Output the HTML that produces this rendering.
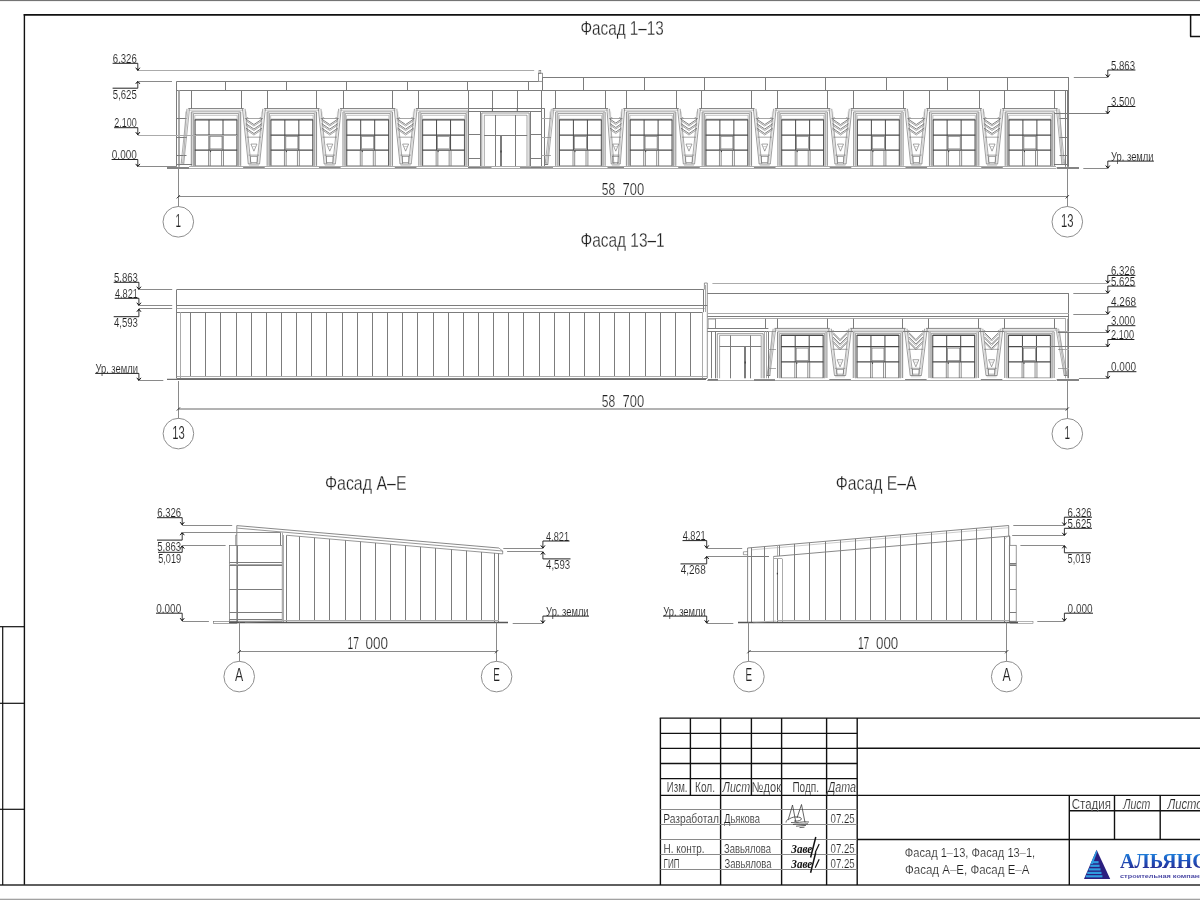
<!DOCTYPE html>
<html><head><meta charset="utf-8"><title>Фасады</title>
<style>
html,body{margin:0;padding:0;background:#fff;}
body{width:1200px;height:900px;overflow:hidden;font-family:"Liberation Sans",sans-serif;}
svg{display:block;font-family:"Liberation Sans",sans-serif;}
</style></head><body>
<svg width="1200" height="900" viewBox="0 0 1200 900">
<rect x="0" y="0" width="1200" height="900" style="fill:#fff" stroke="none"/>
<defs><filter id="gs" x="0" y="0" width="1200" height="900" filterUnits="userSpaceOnUse" color-interpolation-filters="sRGB"><feColorMatrix type="saturate" values="0"/></filter><filter id="idf" x="1060" y="830" width="140" height="70" filterUnits="userSpaceOnUse" color-interpolation-filters="sRGB"><feColorMatrix type="saturate" values="1"/></filter></defs>
<g filter="url(#gs)">
<rect x="0" y="0" width="1200" height="1.1" style="fill:#747474" stroke="none"/>
<rect x="0" y="898.7" width="1200" height="1.3" style="fill:#a2a2a2" stroke="none"/>
<path d="M24.4 14.1L24.4 885" stroke="#111" stroke-width="1.4"/>
<path d="M23.7 14.85L1200 14.85" stroke="#111" stroke-width="1.6"/>
<path d="M0 885L1200 885" stroke="#2a2a2a" stroke-width="1.6"/>
<path d="M1190.6 15L1190.6 36.5" stroke="#111" stroke-width="1.5"/>
<path d="M1190 36.5L1200 36.5" stroke="#111" stroke-width="1.5"/>
<path d="M2.7 626.7L2.7 885" stroke="#111" stroke-width="1.2"/>
<path d="M0 626.7L24.2 626.7" stroke="#111" stroke-width="1.2"/>
<path d="M0 703.3L24.2 703.3" stroke="#111" stroke-width="1.2"/>
<path d="M0 809.3L24.2 809.3" stroke="#111" stroke-width="1.2"/>
<path d="M659.7 718.1L1200 718.1" stroke="#111" stroke-width="1.4"/>
<path d="M660.4 718.1L660.4 885" stroke="#111" stroke-width="1.4"/>
<path d="M720.6 718.1L720.6 885" stroke="#111" stroke-width="1.4"/>
<path d="M781.6 718.1L781.6 885" stroke="#111" stroke-width="1.4"/>
<path d="M826.6 718.1L826.6 885" stroke="#111" stroke-width="1.4"/>
<path d="M857.2 718.1L857.2 885" stroke="#111" stroke-width="1.4"/>
<path d="M690.4 718.1L690.4 795.4" stroke="#111" stroke-width="1.4"/>
<path d="M751.4 718.1L751.4 795.4" stroke="#111" stroke-width="1.4"/>
<path d="M660.4 733.3L857.2 733.3" stroke="#111" stroke-width="1.3"/>
<path d="M660.4 748.4L857.2 748.4" stroke="#111" stroke-width="1.3"/>
<path d="M660.4 763.5L857.2 763.5" stroke="#111" stroke-width="1.3"/>
<path d="M660.4 778.6L857.2 778.6" stroke="#111" stroke-width="1.4"/>
<path d="M660.4 795.4L1200 795.4" stroke="#111" stroke-width="1.4"/>
<path d="M660.4 809.5L857.2 809.5" stroke="#8a8a8a" stroke-width="1"/>
<path d="M660.4 824.5L857.2 824.5" stroke="#8a8a8a" stroke-width="1"/>
<path d="M660.4 839.5L857.2 839.5" stroke="#8a8a8a" stroke-width="1"/>
<path d="M660.4 854.5L857.2 854.5" stroke="#8a8a8a" stroke-width="1"/>
<path d="M660.4 869.5L857.2 869.5" stroke="#8a8a8a" stroke-width="1"/>
<path d="M857.2 748.2L1200 748.2" stroke="#111" stroke-width="1.4"/>
<path d="M857.2 839.5L1200 839.5" stroke="#111" stroke-width="1.4"/>
<path d="M1069.3 795.4L1069.3 885" stroke="#111" stroke-width="1.4"/>
<path d="M1114.5 795.4L1114.5 839.5" stroke="#111" stroke-width="1.4"/>
<path d="M1160.2 795.4L1160.2 839.5" stroke="#111" stroke-width="1.4"/>
<path d="M1069.3 810.8L1200 810.8" stroke="#111" stroke-width="1.4"/>
<text x="666.8" y="791.6" font-size="14.4" fill="#222" text-anchor="start" stroke="#fff" stroke-width="0.2" textLength="20.7" lengthAdjust="spacingAndGlyphs">Изм.</text>
<text x="695" y="791.6" font-size="14.4" fill="#222" text-anchor="start" stroke="#fff" stroke-width="0.2" textLength="20" lengthAdjust="spacingAndGlyphs">Кол.</text>
<text x="722.6" y="791.6" font-size="14.4" fill="#222" text-anchor="start" stroke="#fff" stroke-width="0.2" textLength="27.4" lengthAdjust="spacingAndGlyphs" font-style="italic">Лист</text>
<text x="751.8" y="791.6" font-size="14.4" fill="#222" text-anchor="start" stroke="#fff" stroke-width="0.2" textLength="29.2" lengthAdjust="spacingAndGlyphs">№док</text>
<text x="792.4" y="791.6" font-size="14.4" fill="#222" text-anchor="start" stroke="#fff" stroke-width="0.2" textLength="26.6" lengthAdjust="spacingAndGlyphs">Подп.</text>
<text x="827.8" y="791.6" font-size="14.4" fill="#222" text-anchor="start" stroke="#fff" stroke-width="0.2" textLength="28.2" lengthAdjust="spacingAndGlyphs" font-style="italic">Дата</text>
<text x="663.2" y="822.6" font-size="12.2" fill="#222" text-anchor="start" stroke="#fff" stroke-width="0.17" textLength="55.8" lengthAdjust="spacingAndGlyphs">Разработал</text>
<text x="724" y="822.6" font-size="12.2" fill="#222" text-anchor="start" stroke="#fff" stroke-width="0.17" textLength="36" lengthAdjust="spacingAndGlyphs">Дьякова</text>
<text x="830.5" y="822.6" font-size="12.2" fill="#222" text-anchor="start" stroke="#fff" stroke-width="0.17" textLength="24.2" lengthAdjust="spacingAndGlyphs">07.25</text>
<text x="663.5" y="852.6" font-size="12.2" fill="#222" text-anchor="start" stroke="#fff" stroke-width="0.17" textLength="41" lengthAdjust="spacingAndGlyphs">Н. контр.</text>
<text x="724" y="852.6" font-size="12.2" fill="#222" text-anchor="start" stroke="#fff" stroke-width="0.17" textLength="47" lengthAdjust="spacingAndGlyphs">Завьялова</text>
<text x="830.5" y="852.8" font-size="12.2" fill="#222" text-anchor="start" stroke="#fff" stroke-width="0.17" textLength="24.2" lengthAdjust="spacingAndGlyphs">07.25</text>
<text x="663.5" y="867.8" font-size="12.2" fill="#222" text-anchor="start" stroke="#fff" stroke-width="0.17" textLength="16" lengthAdjust="spacingAndGlyphs">ГИП</text>
<text x="724.5" y="867.8" font-size="12.2" fill="#222" text-anchor="start" stroke="#fff" stroke-width="0.17" textLength="47" lengthAdjust="spacingAndGlyphs">Завьялова</text>
<text x="830.5" y="868" font-size="12.2" fill="#222" text-anchor="start" stroke="#fff" stroke-width="0.17" textLength="24.2" lengthAdjust="spacingAndGlyphs">07.25</text>
<text x="1071.7" y="808.6" font-size="14.5" fill="#222" text-anchor="start" stroke="#fff" stroke-width="0.2" textLength="39.2" lengthAdjust="spacingAndGlyphs">Стадия</text>
<text x="1123.2" y="808.6" font-size="14.5" fill="#222" text-anchor="start" stroke="#fff" stroke-width="0.2" textLength="27.2" lengthAdjust="spacingAndGlyphs" font-style="italic">Лист</text>
<text x="1167.5" y="808.6" font-size="14.5" fill="#222" text-anchor="start" stroke="#fff" stroke-width="0.2" textLength="41" lengthAdjust="spacingAndGlyphs" font-style="italic">Листов</text>
<text x="904.8" y="857" font-size="13.2" fill="#222" text-anchor="start" stroke="#fff" stroke-width="0.18" textLength="130.4" lengthAdjust="spacingAndGlyphs">Фасад 1–13, Фасад 13–1,</text>
<text x="905" y="874.1" font-size="13.2" fill="#222" text-anchor="start" stroke="#fff" stroke-width="0.18" textLength="124.4" lengthAdjust="spacingAndGlyphs">Фасад А–Е, Фасад Е–А</text>
<path d="M786 822.5 C786.5 819 788 821 789 817 L792.5 805 L795.8 822 M788 820 C792 816 799 816.5 801 818 C803 820 798 821.5 794 821 M797 818 L801.5 804.5 L805 822.5 M791 822.5 C796 823.5 803 821 809 822 M793 824.5 C798 823.5 803 824.5 808 823.8 M796 826.2 L806 825.4 M799.5 827.6 L804.5 827.2" stroke="#333" stroke-width="0.75" fill="none"/>
<text x="791.3" y="853" font-family="Liberation Serif" font-style="italic" font-weight="bold" font-size="13.5" textLength="21" lengthAdjust="spacingAndGlyphs" fill="#111">Заве</text>
<path d="M815.8 837 L810.6 857.5" stroke="#111" stroke-width="1.5" fill="none"/>
<path d="M819.2 844 L815.2 852.5" stroke="#111" stroke-width="1.2" fill="none"/>
<text x="791.3" y="868.2" font-family="Liberation Serif" font-style="italic" font-weight="bold" font-size="13.5" textLength="21" lengthAdjust="spacingAndGlyphs" fill="#111">Заве</text>
<path d="M815.8 852.2 L810.6 872.7" stroke="#111" stroke-width="1.5" fill="none"/>
<path d="M819.2 859.2 L815.2 867.7" stroke="#111" stroke-width="1.2" fill="none"/>
<path d="M137.8 70.5L534.2 70.5" stroke="#ababab" stroke-width="1"/>
<rect x="538.4" y="73.2" width="4" height="8.1" stroke="#6a6a6a" stroke-width="0.7" fill="none"/>
<rect x="539" y="70.4" width="1.8" height="2.8" stroke="#6a6a6a" stroke-width="0.6" fill="none"/>
<path d="M176.7 81.5L538.4 81.5" stroke="#7c7c7c" stroke-width="1"/>
<path d="M542.4 77.5L1068.9 77.5" stroke="#7c7c7c" stroke-width="1"/>
<path d="M176.7 90.5L1068.9 90.5" stroke="#7c7c7c" stroke-width="1"/>
<path d="M176.5 81.3L176.5 166.8" stroke="#7c7c7c" stroke-width="1"/>
<path d="M1068.5 77.3L1068.5 166.8" stroke="#7c7c7c" stroke-width="1"/>
<path d="M542.5 77.3L542.5 90.4" stroke="#7c7c7c" stroke-width="1"/>
<path d="M225.5 81.3L225.5 90.4" stroke="#7c7c7c" stroke-width="1"/>
<path d="M286.5 81.3L286.5 90.4" stroke="#7c7c7c" stroke-width="1"/>
<path d="M346.5 81.3L346.5 90.4" stroke="#7c7c7c" stroke-width="1"/>
<path d="M407.5 81.3L407.5 90.4" stroke="#7c7c7c" stroke-width="1"/>
<path d="M467.5 81.3L467.5 90.4" stroke="#7c7c7c" stroke-width="1"/>
<path d="M528.5 81.3L528.5 90.4" stroke="#7c7c7c" stroke-width="1"/>
<path d="M583.5 77.3L583.5 90.4" stroke="#7c7c7c" stroke-width="1"/>
<path d="M644.5 77.3L644.5 90.4" stroke="#7c7c7c" stroke-width="1"/>
<path d="M704.5 77.3L704.5 90.4" stroke="#7c7c7c" stroke-width="1"/>
<path d="M765.5 77.3L765.5 90.4" stroke="#7c7c7c" stroke-width="1"/>
<path d="M825.5 77.3L825.5 90.4" stroke="#7c7c7c" stroke-width="1"/>
<path d="M886.5 77.3L886.5 90.4" stroke="#7c7c7c" stroke-width="1"/>
<path d="M947.5 77.3L947.5 90.4" stroke="#7c7c7c" stroke-width="1"/>
<path d="M1007.5 77.3L1007.5 90.4" stroke="#7c7c7c" stroke-width="1"/>
<path d="M191.5 90.4L191.5 108.5" stroke="#7c7c7c" stroke-width="1"/>
<path d="M241.5 90.4L241.5 108.5" stroke="#7c7c7c" stroke-width="1"/>
<path d="M267.5 90.4L267.5 108.5" stroke="#7c7c7c" stroke-width="1"/>
<path d="M316.5 90.4L316.5 108.5" stroke="#7c7c7c" stroke-width="1"/>
<path d="M343.5 90.4L343.5 108.5" stroke="#7c7c7c" stroke-width="1"/>
<path d="M392.5 90.4L392.5 108.5" stroke="#7c7c7c" stroke-width="1"/>
<path d="M418.5 90.4L418.5 108.5" stroke="#7c7c7c" stroke-width="1"/>
<path d="M555.5 90.4L555.5 108.5" stroke="#7c7c7c" stroke-width="1"/>
<path d="M605.5 90.4L605.5 108.5" stroke="#7c7c7c" stroke-width="1"/>
<path d="M626.5 90.4L626.5 108.5" stroke="#7c7c7c" stroke-width="1"/>
<path d="M676.5 90.4L676.5 108.5" stroke="#7c7c7c" stroke-width="1"/>
<path d="M701.5 90.4L701.5 108.5" stroke="#7c7c7c" stroke-width="1"/>
<path d="M751.5 90.4L751.5 108.5" stroke="#7c7c7c" stroke-width="1"/>
<path d="M777.5 90.4L777.5 108.5" stroke="#7c7c7c" stroke-width="1"/>
<path d="M827.5 90.4L827.5 108.5" stroke="#7c7c7c" stroke-width="1"/>
<path d="M853.5 90.4L853.5 108.5" stroke="#7c7c7c" stroke-width="1"/>
<path d="M903.5 90.4L903.5 108.5" stroke="#7c7c7c" stroke-width="1"/>
<path d="M929.5 90.4L929.5 108.5" stroke="#7c7c7c" stroke-width="1"/>
<path d="M979.5 90.4L979.5 108.5" stroke="#7c7c7c" stroke-width="1"/>
<path d="M1004.5 90.4L1004.5 108.5" stroke="#7c7c7c" stroke-width="1"/>
<path d="M1054.5 90.4L1054.5 108.5" stroke="#7c7c7c" stroke-width="1"/>
<path d="M468.5 90.4L468.5 108.5" stroke="#7c7c7c" stroke-width="1"/>
<path d="M492.5 90.4L492.5 108.5" stroke="#7c7c7c" stroke-width="1"/>
<path d="M517.5 90.4L517.5 108.5" stroke="#7c7c7c" stroke-width="1"/>
<path d="M541.5 90.4L541.5 108.5" stroke="#7c7c7c" stroke-width="1"/>
<path d="M178.5 90.4L178.5 166.8" stroke="#ababab" stroke-width="1"/>
<path d="M179.5 90.4L179.5 166.8" stroke="#ababab" stroke-width="1"/>
<path d="M176.7 118.5L186.5 118.5" stroke="#7c7c7c" stroke-width="1"/>
<path d="M176.7 137.5L186.5 137.5" stroke="#7c7c7c" stroke-width="1"/>
<path d="M176.7 155.5L186.5 155.5" stroke="#7c7c7c" stroke-width="1"/>
<path d="M189.5 108.8L183.7 164" stroke="#6a6a6a" stroke-width="0.55"/>
<path d="M188.2 108.8L182.4 164" stroke="#9a9a9a" stroke-width="0.55"/>
<path d="M186.9 108.8L181.1 164" stroke="#6a6a6a" stroke-width="0.55"/>
<path d="M185.7 111.5L183.7 164" stroke="#9a9a9a" stroke-width="0.5"/>
<path d="M180.5 164.5L184.1 164.5" stroke="#7c7c7c" stroke-width="1"/>
<path d="M181.7 159L181.5 162.8L183 162.8" stroke="#9a9a9a" stroke-width="0.5" fill="none"/>
<path d="M176.7 164.5L192 164.5" stroke="#7c7c7c" stroke-width="1"/>
<path d="M1067.5 90.4L1067.5 166.8" stroke="#7c7c7c" stroke-width="1"/>
<path d="M1065.5 90.4L1065.5 166.8" stroke="#7c7c7c" stroke-width="1"/>
<path d="M1059.5 118.5L1068.9 118.5" stroke="#7c7c7c" stroke-width="1"/>
<path d="M1059.5 137.5L1068.9 137.5" stroke="#7c7c7c" stroke-width="1"/>
<path d="M1059.5 155.5L1068.9 155.5" stroke="#7c7c7c" stroke-width="1"/>
<path d="M1056.4 108.8L1061.9 164" stroke="#6a6a6a" stroke-width="0.55"/>
<path d="M1057.7 108.8L1063.2 164" stroke="#9a9a9a" stroke-width="0.55"/>
<path d="M1059 108.8L1064.5 164" stroke="#6a6a6a" stroke-width="0.55"/>
<path d="M1060.2 111.5L1061.9 164" stroke="#9a9a9a" stroke-width="0.5"/>
<path d="M1065.1 164.5L1061.5 164.5" stroke="#7c7c7c" stroke-width="1"/>
<path d="M1063.9 159L1064.1 162.8L1062.6 162.8" stroke="#9a9a9a" stroke-width="0.5" fill="none"/>
<path d="M1054 164.5L1068.9 164.5" stroke="#7c7c7c" stroke-width="1"/>
<path d="M188.3 108.5L243.7 108.5" stroke="#6a6a6a" stroke-width="0.8"/>
<path d="M188.8 110.2L243.2 110.2" stroke="#9a9a9a" stroke-width="0.6"/>
<path d="M191.5 111.8L240.5 111.8" stroke="#6a6a6a" stroke-width="0.6"/>
<path d="M191.3 111.8L191.3 165.9" stroke="#666" stroke-width="0.75"/>
<path d="M240.7 111.8L240.7 165.9" stroke="#666" stroke-width="0.75"/>
<path d="M192.8 111.8L192.8 165.9" stroke="#9a9a9a" stroke-width="0.6"/>
<path d="M239.2 111.8L239.2 165.9" stroke="#9a9a9a" stroke-width="0.6"/>
<path d="M193.6 166.2L193.6 113.5L238.4 113.5L238.4 166.2" stroke="#6a6a6a" stroke-width="0.6" fill="none"/>
<path d="M194.8 166.2L194.8 115.3L237.2 115.3L237.2 166.2" stroke="#9a9a9a" stroke-width="0.6" fill="none"/>
<path d="M195.1 118.9L236.9 118.9" stroke="#9a9a9a" stroke-width="0.5"/>
<path d="M194.8 119.8L237.2 119.8" stroke="#4a4a4a" stroke-width="1.25"/>
<path d="M194.8 135L237.2 135" stroke="#4a4a4a" stroke-width="1.25"/>
<path d="M194.8 150.1L237.2 150.1" stroke="#4a4a4a" stroke-width="1.25"/>
<path d="M195.1 119.8L195.1 165.8" stroke="#4a4a4a" stroke-width="0.9"/>
<path d="M236.9 119.8L236.9 165.8" stroke="#4a4a4a" stroke-width="0.9"/>
<path d="M209 119.8L209 150.1" stroke="#4a4a4a" stroke-width="1"/>
<path d="M223 119.8L223 150.1" stroke="#4a4a4a" stroke-width="1"/>
<rect x="210" y="136.4" width="12" height="12.5" stroke="#6a6a6a" stroke-width="0.6" fill="none"/>
<path d="M208.6 150.1L208.6 165.9" stroke="#6a6a6a" stroke-width="0.75"/>
<path d="M210.3 150.1L210.3 165.9" stroke="#6a6a6a" stroke-width="0.75"/>
<path d="M221.6 150.1L221.6 165.9" stroke="#6a6a6a" stroke-width="0.75"/>
<path d="M223.5 150.1L223.5 165.9" stroke="#6a6a6a" stroke-width="0.75"/>
<path d="M210.6 150.7L210.6 152.1" stroke="#222" stroke-width="0.8"/>
<path d="M195.1 165.7L236.9 165.7" stroke="#6a6a6a" stroke-width="0.6"/>
<path d="M264.15 108.5L319.55 108.5" stroke="#6a6a6a" stroke-width="0.8"/>
<path d="M264.65 110.2L319.05 110.2" stroke="#9a9a9a" stroke-width="0.6"/>
<path d="M267.35 111.8L316.35 111.8" stroke="#6a6a6a" stroke-width="0.6"/>
<path d="M267.15 111.8L267.15 165.9" stroke="#666" stroke-width="0.75"/>
<path d="M316.55 111.8L316.55 165.9" stroke="#666" stroke-width="0.75"/>
<path d="M268.65 111.8L268.65 165.9" stroke="#9a9a9a" stroke-width="0.6"/>
<path d="M315.05 111.8L315.05 165.9" stroke="#9a9a9a" stroke-width="0.6"/>
<path d="M269.45 166.2L269.45 113.5L314.25 113.5L314.25 166.2" stroke="#6a6a6a" stroke-width="0.6" fill="none"/>
<path d="M270.65 166.2L270.65 115.3L313.05 115.3L313.05 166.2" stroke="#9a9a9a" stroke-width="0.6" fill="none"/>
<path d="M270.95 118.9L312.75 118.9" stroke="#9a9a9a" stroke-width="0.5"/>
<path d="M270.65 119.8L313.05 119.8" stroke="#4a4a4a" stroke-width="1.25"/>
<path d="M270.65 135L313.05 135" stroke="#4a4a4a" stroke-width="1.25"/>
<path d="M270.65 150.1L313.05 150.1" stroke="#4a4a4a" stroke-width="1.25"/>
<path d="M270.95 119.8L270.95 165.8" stroke="#4a4a4a" stroke-width="0.9"/>
<path d="M312.75 119.8L312.75 165.8" stroke="#4a4a4a" stroke-width="0.9"/>
<path d="M284.85 119.8L284.85 150.1" stroke="#4a4a4a" stroke-width="1"/>
<path d="M298.85 119.8L298.85 150.1" stroke="#4a4a4a" stroke-width="1"/>
<rect x="285.85" y="136.4" width="12" height="12.5" stroke="#6a6a6a" stroke-width="0.6" fill="none"/>
<path d="M284.45 150.1L284.45 165.9" stroke="#6a6a6a" stroke-width="0.75"/>
<path d="M286.15 150.1L286.15 165.9" stroke="#6a6a6a" stroke-width="0.75"/>
<path d="M297.45 150.1L297.45 165.9" stroke="#6a6a6a" stroke-width="0.75"/>
<path d="M299.35 150.1L299.35 165.9" stroke="#6a6a6a" stroke-width="0.75"/>
<path d="M286.45 150.7L286.45 152.1" stroke="#222" stroke-width="0.8"/>
<path d="M270.95 165.7L312.75 165.7" stroke="#6a6a6a" stroke-width="0.6"/>
<path d="M340 108.5L395.4 108.5" stroke="#6a6a6a" stroke-width="0.8"/>
<path d="M340.5 110.2L394.9 110.2" stroke="#9a9a9a" stroke-width="0.6"/>
<path d="M343.2 111.8L392.2 111.8" stroke="#6a6a6a" stroke-width="0.6"/>
<path d="M343 111.8L343 165.9" stroke="#666" stroke-width="0.75"/>
<path d="M392.4 111.8L392.4 165.9" stroke="#666" stroke-width="0.75"/>
<path d="M344.5 111.8L344.5 165.9" stroke="#9a9a9a" stroke-width="0.6"/>
<path d="M390.9 111.8L390.9 165.9" stroke="#9a9a9a" stroke-width="0.6"/>
<path d="M345.3 166.2L345.3 113.5L390.1 113.5L390.1 166.2" stroke="#6a6a6a" stroke-width="0.6" fill="none"/>
<path d="M346.5 166.2L346.5 115.3L388.9 115.3L388.9 166.2" stroke="#9a9a9a" stroke-width="0.6" fill="none"/>
<path d="M346.8 118.9L388.6 118.9" stroke="#9a9a9a" stroke-width="0.5"/>
<path d="M346.5 119.8L388.9 119.8" stroke="#4a4a4a" stroke-width="1.25"/>
<path d="M346.5 135L388.9 135" stroke="#4a4a4a" stroke-width="1.25"/>
<path d="M346.5 150.1L388.9 150.1" stroke="#4a4a4a" stroke-width="1.25"/>
<path d="M346.8 119.8L346.8 165.8" stroke="#4a4a4a" stroke-width="0.9"/>
<path d="M388.6 119.8L388.6 165.8" stroke="#4a4a4a" stroke-width="0.9"/>
<path d="M360.7 119.8L360.7 150.1" stroke="#4a4a4a" stroke-width="1"/>
<path d="M374.7 119.8L374.7 150.1" stroke="#4a4a4a" stroke-width="1"/>
<rect x="361.7" y="136.4" width="12" height="12.5" stroke="#6a6a6a" stroke-width="0.6" fill="none"/>
<path d="M360.3 150.1L360.3 165.9" stroke="#6a6a6a" stroke-width="0.75"/>
<path d="M362 150.1L362 165.9" stroke="#6a6a6a" stroke-width="0.75"/>
<path d="M373.3 150.1L373.3 165.9" stroke="#6a6a6a" stroke-width="0.75"/>
<path d="M375.2 150.1L375.2 165.9" stroke="#6a6a6a" stroke-width="0.75"/>
<path d="M362.3 150.7L362.3 152.1" stroke="#222" stroke-width="0.8"/>
<path d="M346.8 165.7L388.6 165.7" stroke="#6a6a6a" stroke-width="0.6"/>
<clipPath id="cl4"><rect x="400" y="100" width="68.4" height="80"/></clipPath><g clip-path="url(#cl4)">
<path d="M415.85 108.5L471.25 108.5" stroke="#6a6a6a" stroke-width="0.8"/>
<path d="M416.35 110.2L470.75 110.2" stroke="#9a9a9a" stroke-width="0.6"/>
<path d="M419.05 111.8L468.05 111.8" stroke="#6a6a6a" stroke-width="0.6"/>
<path d="M418.85 111.8L418.85 165.9" stroke="#666" stroke-width="0.75"/>
<path d="M468.25 111.8L468.25 165.9" stroke="#666" stroke-width="0.75"/>
<path d="M420.35 111.8L420.35 165.9" stroke="#9a9a9a" stroke-width="0.6"/>
<path d="M466.75 111.8L466.75 165.9" stroke="#9a9a9a" stroke-width="0.6"/>
<path d="M421.15 166.2L421.15 113.5L465.95 113.5L465.95 166.2" stroke="#6a6a6a" stroke-width="0.6" fill="none"/>
<path d="M422.35 166.2L422.35 115.3L464.75 115.3L464.75 166.2" stroke="#9a9a9a" stroke-width="0.6" fill="none"/>
<path d="M422.65 118.9L464.45 118.9" stroke="#9a9a9a" stroke-width="0.5"/>
<path d="M422.35 119.8L464.75 119.8" stroke="#4a4a4a" stroke-width="1.25"/>
<path d="M422.35 135L464.75 135" stroke="#4a4a4a" stroke-width="1.25"/>
<path d="M422.35 150.1L464.75 150.1" stroke="#4a4a4a" stroke-width="1.25"/>
<path d="M422.65 119.8L422.65 165.8" stroke="#4a4a4a" stroke-width="0.9"/>
<path d="M464.45 119.8L464.45 165.8" stroke="#4a4a4a" stroke-width="0.9"/>
<path d="M436.55 119.8L436.55 150.1" stroke="#4a4a4a" stroke-width="1"/>
<path d="M450.55 119.8L450.55 150.1" stroke="#4a4a4a" stroke-width="1"/>
<rect x="437.55" y="136.4" width="12" height="12.5" stroke="#6a6a6a" stroke-width="0.6" fill="none"/>
<path d="M436.15 150.1L436.15 165.9" stroke="#6a6a6a" stroke-width="0.75"/>
<path d="M437.85 150.1L437.85 165.9" stroke="#6a6a6a" stroke-width="0.75"/>
<path d="M449.15 150.1L449.15 165.9" stroke="#6a6a6a" stroke-width="0.75"/>
<path d="M451.05 150.1L451.05 165.9" stroke="#6a6a6a" stroke-width="0.75"/>
<path d="M438.15 150.7L438.15 152.1" stroke="#222" stroke-width="0.8"/>
<path d="M422.65 165.7L464.45 165.7" stroke="#6a6a6a" stroke-width="0.6"/>
</g>
<path d="M552.7 108.5L608.1 108.5" stroke="#6a6a6a" stroke-width="0.8"/>
<path d="M553.2 110.2L607.6 110.2" stroke="#9a9a9a" stroke-width="0.6"/>
<path d="M555.9 111.8L604.9 111.8" stroke="#6a6a6a" stroke-width="0.6"/>
<path d="M555.7 111.8L555.7 165.9" stroke="#666" stroke-width="0.75"/>
<path d="M605.1 111.8L605.1 165.9" stroke="#666" stroke-width="0.75"/>
<path d="M557.2 111.8L557.2 165.9" stroke="#9a9a9a" stroke-width="0.6"/>
<path d="M603.6 111.8L603.6 165.9" stroke="#9a9a9a" stroke-width="0.6"/>
<path d="M558 166.2L558 113.5L602.8 113.5L602.8 166.2" stroke="#6a6a6a" stroke-width="0.6" fill="none"/>
<path d="M559.2 166.2L559.2 115.3L601.6 115.3L601.6 166.2" stroke="#9a9a9a" stroke-width="0.6" fill="none"/>
<path d="M559.5 118.9L601.3 118.9" stroke="#9a9a9a" stroke-width="0.5"/>
<path d="M559.2 119.8L601.6 119.8" stroke="#4a4a4a" stroke-width="1.25"/>
<path d="M559.2 135L601.6 135" stroke="#4a4a4a" stroke-width="1.25"/>
<path d="M559.2 150.1L601.6 150.1" stroke="#4a4a4a" stroke-width="1.25"/>
<path d="M559.5 119.8L559.5 165.8" stroke="#4a4a4a" stroke-width="0.9"/>
<path d="M601.3 119.8L601.3 165.8" stroke="#4a4a4a" stroke-width="0.9"/>
<path d="M573.4 119.8L573.4 150.1" stroke="#4a4a4a" stroke-width="1"/>
<path d="M587.4 119.8L587.4 150.1" stroke="#4a4a4a" stroke-width="1"/>
<rect x="574.4" y="136.4" width="12" height="12.5" stroke="#6a6a6a" stroke-width="0.6" fill="none"/>
<path d="M573 150.1L573 165.9" stroke="#6a6a6a" stroke-width="0.75"/>
<path d="M574.7 150.1L574.7 165.9" stroke="#6a6a6a" stroke-width="0.75"/>
<path d="M586 150.1L586 165.9" stroke="#6a6a6a" stroke-width="0.75"/>
<path d="M587.9 150.1L587.9 165.9" stroke="#6a6a6a" stroke-width="0.75"/>
<path d="M575 150.7L575 152.1" stroke="#222" stroke-width="0.8"/>
<path d="M559.5 165.7L601.3 165.7" stroke="#6a6a6a" stroke-width="0.6"/>
<path d="M623.4 108.5L678.8 108.5" stroke="#6a6a6a" stroke-width="0.8"/>
<path d="M623.9 110.2L678.3 110.2" stroke="#9a9a9a" stroke-width="0.6"/>
<path d="M626.6 111.8L675.6 111.8" stroke="#6a6a6a" stroke-width="0.6"/>
<path d="M626.4 111.8L626.4 165.9" stroke="#666" stroke-width="0.75"/>
<path d="M675.8 111.8L675.8 165.9" stroke="#666" stroke-width="0.75"/>
<path d="M627.9 111.8L627.9 165.9" stroke="#9a9a9a" stroke-width="0.6"/>
<path d="M674.3 111.8L674.3 165.9" stroke="#9a9a9a" stroke-width="0.6"/>
<path d="M628.7 166.2L628.7 113.5L673.5 113.5L673.5 166.2" stroke="#6a6a6a" stroke-width="0.6" fill="none"/>
<path d="M629.9 166.2L629.9 115.3L672.3 115.3L672.3 166.2" stroke="#9a9a9a" stroke-width="0.6" fill="none"/>
<path d="M630.2 118.9L672 118.9" stroke="#9a9a9a" stroke-width="0.5"/>
<path d="M629.9 119.8L672.3 119.8" stroke="#4a4a4a" stroke-width="1.25"/>
<path d="M629.9 135L672.3 135" stroke="#4a4a4a" stroke-width="1.25"/>
<path d="M629.9 150.1L672.3 150.1" stroke="#4a4a4a" stroke-width="1.25"/>
<path d="M630.2 119.8L630.2 165.8" stroke="#4a4a4a" stroke-width="0.9"/>
<path d="M672 119.8L672 165.8" stroke="#4a4a4a" stroke-width="0.9"/>
<path d="M644.1 119.8L644.1 150.1" stroke="#4a4a4a" stroke-width="1"/>
<path d="M658.1 119.8L658.1 150.1" stroke="#4a4a4a" stroke-width="1"/>
<rect x="645.1" y="136.4" width="12" height="12.5" stroke="#6a6a6a" stroke-width="0.6" fill="none"/>
<path d="M643.7 150.1L643.7 165.9" stroke="#6a6a6a" stroke-width="0.75"/>
<path d="M645.4 150.1L645.4 165.9" stroke="#6a6a6a" stroke-width="0.75"/>
<path d="M656.7 150.1L656.7 165.9" stroke="#6a6a6a" stroke-width="0.75"/>
<path d="M658.6 150.1L658.6 165.9" stroke="#6a6a6a" stroke-width="0.75"/>
<path d="M645.7 150.7L645.7 152.1" stroke="#222" stroke-width="0.8"/>
<path d="M630.2 165.7L672 165.7" stroke="#6a6a6a" stroke-width="0.6"/>
<path d="M699.16 108.5L754.56 108.5" stroke="#6a6a6a" stroke-width="0.8"/>
<path d="M699.66 110.2L754.06 110.2" stroke="#9a9a9a" stroke-width="0.6"/>
<path d="M702.36 111.8L751.36 111.8" stroke="#6a6a6a" stroke-width="0.6"/>
<path d="M702.16 111.8L702.16 165.9" stroke="#666" stroke-width="0.75"/>
<path d="M751.56 111.8L751.56 165.9" stroke="#666" stroke-width="0.75"/>
<path d="M703.66 111.8L703.66 165.9" stroke="#9a9a9a" stroke-width="0.6"/>
<path d="M750.06 111.8L750.06 165.9" stroke="#9a9a9a" stroke-width="0.6"/>
<path d="M704.46 166.2L704.46 113.5L749.26 113.5L749.26 166.2" stroke="#6a6a6a" stroke-width="0.6" fill="none"/>
<path d="M705.66 166.2L705.66 115.3L748.06 115.3L748.06 166.2" stroke="#9a9a9a" stroke-width="0.6" fill="none"/>
<path d="M705.96 118.9L747.76 118.9" stroke="#9a9a9a" stroke-width="0.5"/>
<path d="M705.66 119.8L748.06 119.8" stroke="#4a4a4a" stroke-width="1.25"/>
<path d="M705.66 135L748.06 135" stroke="#4a4a4a" stroke-width="1.25"/>
<path d="M705.66 150.1L748.06 150.1" stroke="#4a4a4a" stroke-width="1.25"/>
<path d="M705.96 119.8L705.96 165.8" stroke="#4a4a4a" stroke-width="0.9"/>
<path d="M747.76 119.8L747.76 165.8" stroke="#4a4a4a" stroke-width="0.9"/>
<path d="M719.86 119.8L719.86 150.1" stroke="#4a4a4a" stroke-width="1"/>
<path d="M733.86 119.8L733.86 150.1" stroke="#4a4a4a" stroke-width="1"/>
<rect x="720.86" y="136.4" width="12" height="12.5" stroke="#6a6a6a" stroke-width="0.6" fill="none"/>
<path d="M719.46 150.1L719.46 165.9" stroke="#6a6a6a" stroke-width="0.75"/>
<path d="M721.16 150.1L721.16 165.9" stroke="#6a6a6a" stroke-width="0.75"/>
<path d="M732.46 150.1L732.46 165.9" stroke="#6a6a6a" stroke-width="0.75"/>
<path d="M734.36 150.1L734.36 165.9" stroke="#6a6a6a" stroke-width="0.75"/>
<path d="M721.46 150.7L721.46 152.1" stroke="#222" stroke-width="0.8"/>
<path d="M705.96 165.7L747.76 165.7" stroke="#6a6a6a" stroke-width="0.6"/>
<path d="M774.92 108.5L830.32 108.5" stroke="#6a6a6a" stroke-width="0.8"/>
<path d="M775.42 110.2L829.82 110.2" stroke="#9a9a9a" stroke-width="0.6"/>
<path d="M778.12 111.8L827.12 111.8" stroke="#6a6a6a" stroke-width="0.6"/>
<path d="M777.92 111.8L777.92 165.9" stroke="#666" stroke-width="0.75"/>
<path d="M827.32 111.8L827.32 165.9" stroke="#666" stroke-width="0.75"/>
<path d="M779.42 111.8L779.42 165.9" stroke="#9a9a9a" stroke-width="0.6"/>
<path d="M825.82 111.8L825.82 165.9" stroke="#9a9a9a" stroke-width="0.6"/>
<path d="M780.22 166.2L780.22 113.5L825.02 113.5L825.02 166.2" stroke="#6a6a6a" stroke-width="0.6" fill="none"/>
<path d="M781.42 166.2L781.42 115.3L823.82 115.3L823.82 166.2" stroke="#9a9a9a" stroke-width="0.6" fill="none"/>
<path d="M781.72 118.9L823.52 118.9" stroke="#9a9a9a" stroke-width="0.5"/>
<path d="M781.42 119.8L823.82 119.8" stroke="#4a4a4a" stroke-width="1.25"/>
<path d="M781.42 135L823.82 135" stroke="#4a4a4a" stroke-width="1.25"/>
<path d="M781.42 150.1L823.82 150.1" stroke="#4a4a4a" stroke-width="1.25"/>
<path d="M781.72 119.8L781.72 165.8" stroke="#4a4a4a" stroke-width="0.9"/>
<path d="M823.52 119.8L823.52 165.8" stroke="#4a4a4a" stroke-width="0.9"/>
<path d="M795.62 119.8L795.62 150.1" stroke="#4a4a4a" stroke-width="1"/>
<path d="M809.62 119.8L809.62 150.1" stroke="#4a4a4a" stroke-width="1"/>
<rect x="796.62" y="136.4" width="12" height="12.5" stroke="#6a6a6a" stroke-width="0.6" fill="none"/>
<path d="M795.22 150.1L795.22 165.9" stroke="#6a6a6a" stroke-width="0.75"/>
<path d="M796.92 150.1L796.92 165.9" stroke="#6a6a6a" stroke-width="0.75"/>
<path d="M808.22 150.1L808.22 165.9" stroke="#6a6a6a" stroke-width="0.75"/>
<path d="M810.12 150.1L810.12 165.9" stroke="#6a6a6a" stroke-width="0.75"/>
<path d="M797.22 150.7L797.22 152.1" stroke="#222" stroke-width="0.8"/>
<path d="M781.72 165.7L823.52 165.7" stroke="#6a6a6a" stroke-width="0.6"/>
<path d="M850.68 108.5L906.08 108.5" stroke="#6a6a6a" stroke-width="0.8"/>
<path d="M851.18 110.2L905.58 110.2" stroke="#9a9a9a" stroke-width="0.6"/>
<path d="M853.88 111.8L902.88 111.8" stroke="#6a6a6a" stroke-width="0.6"/>
<path d="M853.68 111.8L853.68 165.9" stroke="#666" stroke-width="0.75"/>
<path d="M903.08 111.8L903.08 165.9" stroke="#666" stroke-width="0.75"/>
<path d="M855.18 111.8L855.18 165.9" stroke="#9a9a9a" stroke-width="0.6"/>
<path d="M901.58 111.8L901.58 165.9" stroke="#9a9a9a" stroke-width="0.6"/>
<path d="M855.98 166.2L855.98 113.5L900.78 113.5L900.78 166.2" stroke="#6a6a6a" stroke-width="0.6" fill="none"/>
<path d="M857.18 166.2L857.18 115.3L899.58 115.3L899.58 166.2" stroke="#9a9a9a" stroke-width="0.6" fill="none"/>
<path d="M857.48 118.9L899.28 118.9" stroke="#9a9a9a" stroke-width="0.5"/>
<path d="M857.18 119.8L899.58 119.8" stroke="#4a4a4a" stroke-width="1.25"/>
<path d="M857.18 135L899.58 135" stroke="#4a4a4a" stroke-width="1.25"/>
<path d="M857.18 150.1L899.58 150.1" stroke="#4a4a4a" stroke-width="1.25"/>
<path d="M857.48 119.8L857.48 165.8" stroke="#4a4a4a" stroke-width="0.9"/>
<path d="M899.28 119.8L899.28 165.8" stroke="#4a4a4a" stroke-width="0.9"/>
<path d="M871.38 119.8L871.38 150.1" stroke="#4a4a4a" stroke-width="1"/>
<path d="M885.38 119.8L885.38 150.1" stroke="#4a4a4a" stroke-width="1"/>
<rect x="872.38" y="136.4" width="12" height="12.5" stroke="#6a6a6a" stroke-width="0.6" fill="none"/>
<path d="M870.98 150.1L870.98 165.9" stroke="#6a6a6a" stroke-width="0.75"/>
<path d="M872.68 150.1L872.68 165.9" stroke="#6a6a6a" stroke-width="0.75"/>
<path d="M883.98 150.1L883.98 165.9" stroke="#6a6a6a" stroke-width="0.75"/>
<path d="M885.88 150.1L885.88 165.9" stroke="#6a6a6a" stroke-width="0.75"/>
<path d="M872.98 150.7L872.98 152.1" stroke="#222" stroke-width="0.8"/>
<path d="M857.48 165.7L899.28 165.7" stroke="#6a6a6a" stroke-width="0.6"/>
<path d="M926.44 108.5L981.84 108.5" stroke="#6a6a6a" stroke-width="0.8"/>
<path d="M926.94 110.2L981.34 110.2" stroke="#9a9a9a" stroke-width="0.6"/>
<path d="M929.64 111.8L978.64 111.8" stroke="#6a6a6a" stroke-width="0.6"/>
<path d="M929.44 111.8L929.44 165.9" stroke="#666" stroke-width="0.75"/>
<path d="M978.84 111.8L978.84 165.9" stroke="#666" stroke-width="0.75"/>
<path d="M930.94 111.8L930.94 165.9" stroke="#9a9a9a" stroke-width="0.6"/>
<path d="M977.34 111.8L977.34 165.9" stroke="#9a9a9a" stroke-width="0.6"/>
<path d="M931.74 166.2L931.74 113.5L976.54 113.5L976.54 166.2" stroke="#6a6a6a" stroke-width="0.6" fill="none"/>
<path d="M932.94 166.2L932.94 115.3L975.34 115.3L975.34 166.2" stroke="#9a9a9a" stroke-width="0.6" fill="none"/>
<path d="M933.24 118.9L975.04 118.9" stroke="#9a9a9a" stroke-width="0.5"/>
<path d="M932.94 119.8L975.34 119.8" stroke="#4a4a4a" stroke-width="1.25"/>
<path d="M932.94 135L975.34 135" stroke="#4a4a4a" stroke-width="1.25"/>
<path d="M932.94 150.1L975.34 150.1" stroke="#4a4a4a" stroke-width="1.25"/>
<path d="M933.24 119.8L933.24 165.8" stroke="#4a4a4a" stroke-width="0.9"/>
<path d="M975.04 119.8L975.04 165.8" stroke="#4a4a4a" stroke-width="0.9"/>
<path d="M947.14 119.8L947.14 150.1" stroke="#4a4a4a" stroke-width="1"/>
<path d="M961.14 119.8L961.14 150.1" stroke="#4a4a4a" stroke-width="1"/>
<rect x="948.14" y="136.4" width="12" height="12.5" stroke="#6a6a6a" stroke-width="0.6" fill="none"/>
<path d="M946.74 150.1L946.74 165.9" stroke="#6a6a6a" stroke-width="0.75"/>
<path d="M948.44 150.1L948.44 165.9" stroke="#6a6a6a" stroke-width="0.75"/>
<path d="M959.74 150.1L959.74 165.9" stroke="#6a6a6a" stroke-width="0.75"/>
<path d="M961.64 150.1L961.64 165.9" stroke="#6a6a6a" stroke-width="0.75"/>
<path d="M948.74 150.7L948.74 152.1" stroke="#222" stroke-width="0.8"/>
<path d="M933.24 165.7L975.04 165.7" stroke="#6a6a6a" stroke-width="0.6"/>
<path d="M1002.2 108.5L1057.6 108.5" stroke="#6a6a6a" stroke-width="0.8"/>
<path d="M1002.7 110.2L1057.1 110.2" stroke="#9a9a9a" stroke-width="0.6"/>
<path d="M1005.4 111.8L1054.4 111.8" stroke="#6a6a6a" stroke-width="0.6"/>
<path d="M1005.2 111.8L1005.2 165.9" stroke="#666" stroke-width="0.75"/>
<path d="M1054.6 111.8L1054.6 165.9" stroke="#666" stroke-width="0.75"/>
<path d="M1006.7 111.8L1006.7 165.9" stroke="#9a9a9a" stroke-width="0.6"/>
<path d="M1053.1 111.8L1053.1 165.9" stroke="#9a9a9a" stroke-width="0.6"/>
<path d="M1007.5 166.2L1007.5 113.5L1052.3 113.5L1052.3 166.2" stroke="#6a6a6a" stroke-width="0.6" fill="none"/>
<path d="M1008.7 166.2L1008.7 115.3L1051.1 115.3L1051.1 166.2" stroke="#9a9a9a" stroke-width="0.6" fill="none"/>
<path d="M1009 118.9L1050.8 118.9" stroke="#9a9a9a" stroke-width="0.5"/>
<path d="M1008.7 119.8L1051.1 119.8" stroke="#4a4a4a" stroke-width="1.25"/>
<path d="M1008.7 135L1051.1 135" stroke="#4a4a4a" stroke-width="1.25"/>
<path d="M1008.7 150.1L1051.1 150.1" stroke="#4a4a4a" stroke-width="1.25"/>
<path d="M1009 119.8L1009 165.8" stroke="#4a4a4a" stroke-width="0.9"/>
<path d="M1050.8 119.8L1050.8 165.8" stroke="#4a4a4a" stroke-width="0.9"/>
<path d="M1022.9 119.8L1022.9 150.1" stroke="#4a4a4a" stroke-width="1"/>
<path d="M1036.9 119.8L1036.9 150.1" stroke="#4a4a4a" stroke-width="1"/>
<rect x="1023.9" y="136.4" width="12" height="12.5" stroke="#6a6a6a" stroke-width="0.6" fill="none"/>
<path d="M1022.5 150.1L1022.5 165.9" stroke="#6a6a6a" stroke-width="0.75"/>
<path d="M1024.2 150.1L1024.2 165.9" stroke="#6a6a6a" stroke-width="0.75"/>
<path d="M1035.5 150.1L1035.5 165.9" stroke="#6a6a6a" stroke-width="0.75"/>
<path d="M1037.4 150.1L1037.4 165.9" stroke="#6a6a6a" stroke-width="0.75"/>
<path d="M1024.5 150.7L1024.5 152.1" stroke="#222" stroke-width="0.8"/>
<path d="M1009 165.7L1050.8 165.7" stroke="#6a6a6a" stroke-width="0.6"/>
<path d="M242.5 108.8L248.33 164" stroke="#6a6a6a" stroke-width="0.65"/>
<path d="M265.35 108.8L259.52 164" stroke="#6a6a6a" stroke-width="0.65"/>
<path d="M243.8 108.8L249.63 164" stroke="#b8b8b8" stroke-width="0.4"/>
<path d="M264.05 108.8L258.22 164" stroke="#b8b8b8" stroke-width="0.4"/>
<path d="M245.1 108.8L250.93 164" stroke="#6a6a6a" stroke-width="0.6"/>
<path d="M262.75 108.8L256.92 164" stroke="#6a6a6a" stroke-width="0.6"/>
<path d="M246.3 111.5L248.33 164" stroke="#b8b8b8" stroke-width="0.4"/>
<path d="M261.55 111.5L259.52 164" stroke="#b8b8b8" stroke-width="0.4"/>
<path d="M244.85 118.5L263 118.5" stroke="#6a6a6a" stroke-width="0.6"/>
<path d="M246.65 118.5L247.55 117.3L248.45 118.5" stroke="#6a6a6a" stroke-width="0.5" fill="none"/>
<path d="M259.4 118.5L260.3 117.3L261.2 118.5" stroke="#6a6a6a" stroke-width="0.5" fill="none"/>
<path d="M245.85 119.1L253.93 124.56L262 119.1" stroke="#6a6a6a" stroke-width="0.85" fill="none"/>
<path d="M245.85 120.6L253.93 126.06L262 120.6" stroke="#9a9a9a" stroke-width="0.85" fill="none"/>
<path d="M245.85 123.6L253.93 129.06L262 123.6" stroke="#6a6a6a" stroke-width="0.85" fill="none"/>
<path d="M245.85 125.1L253.93 130.56L262 125.1" stroke="#9a9a9a" stroke-width="0.85" fill="none"/>
<path d="M245.85 128.1L253.93 133.56L262 128.1" stroke="#6a6a6a" stroke-width="0.85" fill="none"/>
<path d="M245.85 129.6L253.93 135.06L262 129.6" stroke="#9a9a9a" stroke-width="0.85" fill="none"/>
<path d="M246.81 137.18L261.04 137.18" stroke="#6a6a6a" stroke-width="0.6"/>
<path d="M248.7 155.14L259.15 155.14" stroke="#6a6a6a" stroke-width="0.6"/>
<path d="M248.33 164L259.52 164" stroke="#6a6a6a" stroke-width="0.7"/>
<path d="M248.93 165.3L258.92 165.3" stroke="#9a9a9a" stroke-width="0.5"/>
<path d="M250.93 144.05L256.93 144.05L253.93 151.15Z" stroke="#6a6a6a" stroke-width="0.6" fill="none"/>
<path d="M252.43 146.55L255.43 146.55" stroke="#9a9a9a" stroke-width="0.5"/>
<rect x="250.73" y="156.34" width="6.4" height="6.26" stroke="#6a6a6a" stroke-width="0.55" fill="none"/>
<path d="M243.1 168L264.75 168" stroke="#7a7a7a" stroke-width="1.8"/>
<path d="M318.35 108.8L324.18 164" stroke="#6a6a6a" stroke-width="0.65"/>
<path d="M341.2 108.8L335.37 164" stroke="#6a6a6a" stroke-width="0.65"/>
<path d="M319.65 108.8L325.48 164" stroke="#b8b8b8" stroke-width="0.4"/>
<path d="M339.9 108.8L334.07 164" stroke="#b8b8b8" stroke-width="0.4"/>
<path d="M320.95 108.8L326.78 164" stroke="#6a6a6a" stroke-width="0.6"/>
<path d="M338.6 108.8L332.77 164" stroke="#6a6a6a" stroke-width="0.6"/>
<path d="M322.15 111.5L324.18 164" stroke="#b8b8b8" stroke-width="0.4"/>
<path d="M337.4 111.5L335.37 164" stroke="#b8b8b8" stroke-width="0.4"/>
<path d="M320.7 118.5L338.85 118.5" stroke="#6a6a6a" stroke-width="0.6"/>
<path d="M322.5 118.5L323.4 117.3L324.3 118.5" stroke="#6a6a6a" stroke-width="0.5" fill="none"/>
<path d="M335.25 118.5L336.15 117.3L337.05 118.5" stroke="#6a6a6a" stroke-width="0.5" fill="none"/>
<path d="M321.7 119.1L329.77 124.56L337.85 119.1" stroke="#6a6a6a" stroke-width="0.85" fill="none"/>
<path d="M321.7 120.6L329.77 126.06L337.85 120.6" stroke="#9a9a9a" stroke-width="0.85" fill="none"/>
<path d="M321.7 123.6L329.77 129.06L337.85 123.6" stroke="#6a6a6a" stroke-width="0.85" fill="none"/>
<path d="M321.7 125.1L329.77 130.56L337.85 125.1" stroke="#9a9a9a" stroke-width="0.85" fill="none"/>
<path d="M321.7 128.1L329.77 133.56L337.85 128.1" stroke="#6a6a6a" stroke-width="0.85" fill="none"/>
<path d="M321.7 129.6L329.77 135.06L337.85 129.6" stroke="#9a9a9a" stroke-width="0.85" fill="none"/>
<path d="M322.66 137.18L336.89 137.18" stroke="#6a6a6a" stroke-width="0.6"/>
<path d="M324.55 155.14L335 155.14" stroke="#6a6a6a" stroke-width="0.6"/>
<path d="M324.18 164L335.37 164" stroke="#6a6a6a" stroke-width="0.7"/>
<path d="M324.78 165.3L334.77 165.3" stroke="#9a9a9a" stroke-width="0.5"/>
<path d="M326.77 144.05L332.77 144.05L329.77 151.15Z" stroke="#6a6a6a" stroke-width="0.6" fill="none"/>
<path d="M328.27 146.55L331.27 146.55" stroke="#9a9a9a" stroke-width="0.5"/>
<rect x="326.57" y="156.34" width="6.4" height="6.26" stroke="#6a6a6a" stroke-width="0.55" fill="none"/>
<path d="M318.95 168L340.6 168" stroke="#7a7a7a" stroke-width="1.8"/>
<path d="M394.2 108.8L400.03 164" stroke="#6a6a6a" stroke-width="0.65"/>
<path d="M417.05 108.8L411.22 164" stroke="#6a6a6a" stroke-width="0.65"/>
<path d="M395.5 108.8L401.33 164" stroke="#b8b8b8" stroke-width="0.4"/>
<path d="M415.75 108.8L409.92 164" stroke="#b8b8b8" stroke-width="0.4"/>
<path d="M396.8 108.8L402.63 164" stroke="#6a6a6a" stroke-width="0.6"/>
<path d="M414.45 108.8L408.62 164" stroke="#6a6a6a" stroke-width="0.6"/>
<path d="M398 111.5L400.03 164" stroke="#b8b8b8" stroke-width="0.4"/>
<path d="M413.25 111.5L411.22 164" stroke="#b8b8b8" stroke-width="0.4"/>
<path d="M396.55 118.5L414.7 118.5" stroke="#6a6a6a" stroke-width="0.6"/>
<path d="M398.35 118.5L399.25 117.3L400.15 118.5" stroke="#6a6a6a" stroke-width="0.5" fill="none"/>
<path d="M411.1 118.5L412 117.3L412.9 118.5" stroke="#6a6a6a" stroke-width="0.5" fill="none"/>
<path d="M397.55 119.1L405.62 124.56L413.7 119.1" stroke="#6a6a6a" stroke-width="0.85" fill="none"/>
<path d="M397.55 120.6L405.62 126.06L413.7 120.6" stroke="#9a9a9a" stroke-width="0.85" fill="none"/>
<path d="M397.55 123.6L405.62 129.06L413.7 123.6" stroke="#6a6a6a" stroke-width="0.85" fill="none"/>
<path d="M397.55 125.1L405.62 130.56L413.7 125.1" stroke="#9a9a9a" stroke-width="0.85" fill="none"/>
<path d="M397.55 128.1L405.62 133.56L413.7 128.1" stroke="#6a6a6a" stroke-width="0.85" fill="none"/>
<path d="M397.55 129.6L405.62 135.06L413.7 129.6" stroke="#9a9a9a" stroke-width="0.85" fill="none"/>
<path d="M398.51 137.18L412.74 137.18" stroke="#6a6a6a" stroke-width="0.6"/>
<path d="M400.4 155.14L410.85 155.14" stroke="#6a6a6a" stroke-width="0.6"/>
<path d="M400.03 164L411.22 164" stroke="#6a6a6a" stroke-width="0.7"/>
<path d="M400.63 165.3L410.62 165.3" stroke="#9a9a9a" stroke-width="0.5"/>
<path d="M402.62 144.05L408.62 144.05L405.62 151.15Z" stroke="#6a6a6a" stroke-width="0.6" fill="none"/>
<path d="M404.12 146.55L407.12 146.55" stroke="#9a9a9a" stroke-width="0.5"/>
<rect x="402.43" y="156.34" width="6.4" height="6.26" stroke="#6a6a6a" stroke-width="0.55" fill="none"/>
<path d="M394.8 168L416.45 168" stroke="#7a7a7a" stroke-width="1.8"/>
<path d="M606.9 108.8L611.26 164" stroke="#6a6a6a" stroke-width="0.65"/>
<path d="M624.6 108.8L620.24 164" stroke="#6a6a6a" stroke-width="0.65"/>
<path d="M608.2 108.8L612.56 164" stroke="#b8b8b8" stroke-width="0.4"/>
<path d="M623.3 108.8L618.94 164" stroke="#b8b8b8" stroke-width="0.4"/>
<path d="M609.5 108.8L613.86 164" stroke="#6a6a6a" stroke-width="0.6"/>
<path d="M622 108.8L617.64 164" stroke="#6a6a6a" stroke-width="0.6"/>
<path d="M610.7 111.5L611.26 164" stroke="#b8b8b8" stroke-width="0.4"/>
<path d="M620.8 111.5L620.24 164" stroke="#b8b8b8" stroke-width="0.4"/>
<path d="M608.99 118.5L622.51 118.5" stroke="#6a6a6a" stroke-width="0.6"/>
<path d="M610.79 118.5L611.69 117.3L612.59 118.5" stroke="#6a6a6a" stroke-width="0.5" fill="none"/>
<path d="M618.91 118.5L619.81 117.3L620.71 118.5" stroke="#6a6a6a" stroke-width="0.5" fill="none"/>
<path d="M609.99 119.1L615.75 123L621.51 119.1" stroke="#6a6a6a" stroke-width="0.85" fill="none"/>
<path d="M609.99 120.6L615.75 124.5L621.51 120.6" stroke="#9a9a9a" stroke-width="0.85" fill="none"/>
<path d="M609.99 123.6L615.75 127.5L621.51 123.6" stroke="#6a6a6a" stroke-width="0.85" fill="none"/>
<path d="M609.99 125.1L615.75 129L621.51 125.1" stroke="#9a9a9a" stroke-width="0.85" fill="none"/>
<path d="M609.99 128.1L615.75 132L621.51 128.1" stroke="#6a6a6a" stroke-width="0.85" fill="none"/>
<path d="M609.99 129.6L615.75 133.5L621.51 129.6" stroke="#9a9a9a" stroke-width="0.85" fill="none"/>
<path d="M610.45 137.18L621.05 137.18" stroke="#6a6a6a" stroke-width="0.6"/>
<path d="M611.86 155.14L619.64 155.14" stroke="#6a6a6a" stroke-width="0.6"/>
<path d="M611.26 164L620.24 164" stroke="#6a6a6a" stroke-width="0.7"/>
<path d="M611.86 165.3L619.64 165.3" stroke="#9a9a9a" stroke-width="0.5"/>
<path d="M612.75 144.05L618.75 144.05L615.75 151.15Z" stroke="#6a6a6a" stroke-width="0.6" fill="none"/>
<path d="M614.25 146.55L617.25 146.55" stroke="#9a9a9a" stroke-width="0.5"/>
<rect x="612.55" y="156.34" width="6.4" height="6.26" stroke="#6a6a6a" stroke-width="0.55" fill="none"/>
<path d="M607.5 168L624 168" stroke="#7a7a7a" stroke-width="1.8"/>
<path d="M677.6 108.8L683.4 164" stroke="#6a6a6a" stroke-width="0.65"/>
<path d="M700.36 108.8L694.56 164" stroke="#6a6a6a" stroke-width="0.65"/>
<path d="M678.9 108.8L684.7 164" stroke="#b8b8b8" stroke-width="0.4"/>
<path d="M699.06 108.8L693.26 164" stroke="#b8b8b8" stroke-width="0.4"/>
<path d="M680.2 108.8L686 164" stroke="#6a6a6a" stroke-width="0.6"/>
<path d="M697.76 108.8L691.96 164" stroke="#6a6a6a" stroke-width="0.6"/>
<path d="M681.4 111.5L683.4 164" stroke="#b8b8b8" stroke-width="0.4"/>
<path d="M696.56 111.5L694.56 164" stroke="#b8b8b8" stroke-width="0.4"/>
<path d="M679.95 118.5L698.01 118.5" stroke="#6a6a6a" stroke-width="0.6"/>
<path d="M681.75 118.5L682.65 117.3L683.55 118.5" stroke="#6a6a6a" stroke-width="0.5" fill="none"/>
<path d="M694.41 118.5L695.31 117.3L696.21 118.5" stroke="#6a6a6a" stroke-width="0.5" fill="none"/>
<path d="M680.95 119.1L688.98 124.54L697.01 119.1" stroke="#6a6a6a" stroke-width="0.85" fill="none"/>
<path d="M680.95 120.6L688.98 126.04L697.01 120.6" stroke="#9a9a9a" stroke-width="0.85" fill="none"/>
<path d="M680.95 123.6L688.98 129.04L697.01 123.6" stroke="#6a6a6a" stroke-width="0.85" fill="none"/>
<path d="M680.95 125.1L688.98 130.54L697.01 125.1" stroke="#9a9a9a" stroke-width="0.85" fill="none"/>
<path d="M680.95 128.1L688.98 133.54L697.01 128.1" stroke="#6a6a6a" stroke-width="0.85" fill="none"/>
<path d="M680.95 129.6L688.98 135.04L697.01 129.6" stroke="#9a9a9a" stroke-width="0.85" fill="none"/>
<path d="M681.9 137.18L696.06 137.18" stroke="#6a6a6a" stroke-width="0.6"/>
<path d="M683.78 155.14L694.18 155.14" stroke="#6a6a6a" stroke-width="0.6"/>
<path d="M683.4 164L694.56 164" stroke="#6a6a6a" stroke-width="0.7"/>
<path d="M684 165.3L693.96 165.3" stroke="#9a9a9a" stroke-width="0.5"/>
<path d="M685.98 144.05L691.98 144.05L688.98 151.15Z" stroke="#6a6a6a" stroke-width="0.6" fill="none"/>
<path d="M687.48 146.55L690.48 146.55" stroke="#9a9a9a" stroke-width="0.5"/>
<rect x="685.78" y="156.34" width="6.4" height="6.26" stroke="#6a6a6a" stroke-width="0.55" fill="none"/>
<path d="M678.2 168L699.76 168" stroke="#7a7a7a" stroke-width="1.8"/>
<path d="M753.36 108.8L759.16 164" stroke="#6a6a6a" stroke-width="0.65"/>
<path d="M776.12 108.8L770.32 164" stroke="#6a6a6a" stroke-width="0.65"/>
<path d="M754.66 108.8L760.46 164" stroke="#b8b8b8" stroke-width="0.4"/>
<path d="M774.82 108.8L769.02 164" stroke="#b8b8b8" stroke-width="0.4"/>
<path d="M755.96 108.8L761.76 164" stroke="#6a6a6a" stroke-width="0.6"/>
<path d="M773.52 108.8L767.72 164" stroke="#6a6a6a" stroke-width="0.6"/>
<path d="M757.16 111.5L759.16 164" stroke="#b8b8b8" stroke-width="0.4"/>
<path d="M772.32 111.5L770.32 164" stroke="#b8b8b8" stroke-width="0.4"/>
<path d="M755.71 118.5L773.77 118.5" stroke="#6a6a6a" stroke-width="0.6"/>
<path d="M757.51 118.5L758.41 117.3L759.31 118.5" stroke="#6a6a6a" stroke-width="0.5" fill="none"/>
<path d="M770.17 118.5L771.07 117.3L771.97 118.5" stroke="#6a6a6a" stroke-width="0.5" fill="none"/>
<path d="M756.71 119.1L764.74 124.54L772.77 119.1" stroke="#6a6a6a" stroke-width="0.85" fill="none"/>
<path d="M756.71 120.6L764.74 126.04L772.77 120.6" stroke="#9a9a9a" stroke-width="0.85" fill="none"/>
<path d="M756.71 123.6L764.74 129.04L772.77 123.6" stroke="#6a6a6a" stroke-width="0.85" fill="none"/>
<path d="M756.71 125.1L764.74 130.54L772.77 125.1" stroke="#9a9a9a" stroke-width="0.85" fill="none"/>
<path d="M756.71 128.1L764.74 133.54L772.77 128.1" stroke="#6a6a6a" stroke-width="0.85" fill="none"/>
<path d="M756.71 129.6L764.74 135.04L772.77 129.6" stroke="#9a9a9a" stroke-width="0.85" fill="none"/>
<path d="M757.66 137.18L771.82 137.18" stroke="#6a6a6a" stroke-width="0.6"/>
<path d="M759.54 155.14L769.94 155.14" stroke="#6a6a6a" stroke-width="0.6"/>
<path d="M759.16 164L770.32 164" stroke="#6a6a6a" stroke-width="0.7"/>
<path d="M759.76 165.3L769.72 165.3" stroke="#9a9a9a" stroke-width="0.5"/>
<path d="M761.74 144.05L767.74 144.05L764.74 151.15Z" stroke="#6a6a6a" stroke-width="0.6" fill="none"/>
<path d="M763.24 146.55L766.24 146.55" stroke="#9a9a9a" stroke-width="0.5"/>
<rect x="761.54" y="156.34" width="6.4" height="6.26" stroke="#6a6a6a" stroke-width="0.55" fill="none"/>
<path d="M753.96 168L775.52 168" stroke="#7a7a7a" stroke-width="1.8"/>
<path d="M829.12 108.8L834.92 164" stroke="#6a6a6a" stroke-width="0.65"/>
<path d="M851.88 108.8L846.08 164" stroke="#6a6a6a" stroke-width="0.65"/>
<path d="M830.42 108.8L836.22 164" stroke="#b8b8b8" stroke-width="0.4"/>
<path d="M850.58 108.8L844.78 164" stroke="#b8b8b8" stroke-width="0.4"/>
<path d="M831.72 108.8L837.52 164" stroke="#6a6a6a" stroke-width="0.6"/>
<path d="M849.28 108.8L843.48 164" stroke="#6a6a6a" stroke-width="0.6"/>
<path d="M832.92 111.5L834.92 164" stroke="#b8b8b8" stroke-width="0.4"/>
<path d="M848.08 111.5L846.08 164" stroke="#b8b8b8" stroke-width="0.4"/>
<path d="M831.47 118.5L849.53 118.5" stroke="#6a6a6a" stroke-width="0.6"/>
<path d="M833.27 118.5L834.17 117.3L835.07 118.5" stroke="#6a6a6a" stroke-width="0.5" fill="none"/>
<path d="M845.93 118.5L846.83 117.3L847.73 118.5" stroke="#6a6a6a" stroke-width="0.5" fill="none"/>
<path d="M832.47 119.1L840.5 124.54L848.53 119.1" stroke="#6a6a6a" stroke-width="0.85" fill="none"/>
<path d="M832.47 120.6L840.5 126.04L848.53 120.6" stroke="#9a9a9a" stroke-width="0.85" fill="none"/>
<path d="M832.47 123.6L840.5 129.04L848.53 123.6" stroke="#6a6a6a" stroke-width="0.85" fill="none"/>
<path d="M832.47 125.1L840.5 130.54L848.53 125.1" stroke="#9a9a9a" stroke-width="0.85" fill="none"/>
<path d="M832.47 128.1L840.5 133.54L848.53 128.1" stroke="#6a6a6a" stroke-width="0.85" fill="none"/>
<path d="M832.47 129.6L840.5 135.04L848.53 129.6" stroke="#9a9a9a" stroke-width="0.85" fill="none"/>
<path d="M833.42 137.18L847.58 137.18" stroke="#6a6a6a" stroke-width="0.6"/>
<path d="M835.3 155.14L845.7 155.14" stroke="#6a6a6a" stroke-width="0.6"/>
<path d="M834.92 164L846.08 164" stroke="#6a6a6a" stroke-width="0.7"/>
<path d="M835.52 165.3L845.48 165.3" stroke="#9a9a9a" stroke-width="0.5"/>
<path d="M837.5 144.05L843.5 144.05L840.5 151.15Z" stroke="#6a6a6a" stroke-width="0.6" fill="none"/>
<path d="M839 146.55L842 146.55" stroke="#9a9a9a" stroke-width="0.5"/>
<rect x="837.3" y="156.34" width="6.4" height="6.26" stroke="#6a6a6a" stroke-width="0.55" fill="none"/>
<path d="M829.72 168L851.28 168" stroke="#7a7a7a" stroke-width="1.8"/>
<path d="M904.88 108.8L910.68 164" stroke="#6a6a6a" stroke-width="0.65"/>
<path d="M927.64 108.8L921.84 164" stroke="#6a6a6a" stroke-width="0.65"/>
<path d="M906.18 108.8L911.98 164" stroke="#b8b8b8" stroke-width="0.4"/>
<path d="M926.34 108.8L920.54 164" stroke="#b8b8b8" stroke-width="0.4"/>
<path d="M907.48 108.8L913.28 164" stroke="#6a6a6a" stroke-width="0.6"/>
<path d="M925.04 108.8L919.24 164" stroke="#6a6a6a" stroke-width="0.6"/>
<path d="M908.68 111.5L910.68 164" stroke="#b8b8b8" stroke-width="0.4"/>
<path d="M923.84 111.5L921.84 164" stroke="#b8b8b8" stroke-width="0.4"/>
<path d="M907.23 118.5L925.29 118.5" stroke="#6a6a6a" stroke-width="0.6"/>
<path d="M909.03 118.5L909.93 117.3L910.83 118.5" stroke="#6a6a6a" stroke-width="0.5" fill="none"/>
<path d="M921.69 118.5L922.59 117.3L923.49 118.5" stroke="#6a6a6a" stroke-width="0.5" fill="none"/>
<path d="M908.23 119.1L916.26 124.54L924.29 119.1" stroke="#6a6a6a" stroke-width="0.85" fill="none"/>
<path d="M908.23 120.6L916.26 126.04L924.29 120.6" stroke="#9a9a9a" stroke-width="0.85" fill="none"/>
<path d="M908.23 123.6L916.26 129.04L924.29 123.6" stroke="#6a6a6a" stroke-width="0.85" fill="none"/>
<path d="M908.23 125.1L916.26 130.54L924.29 125.1" stroke="#9a9a9a" stroke-width="0.85" fill="none"/>
<path d="M908.23 128.1L916.26 133.54L924.29 128.1" stroke="#6a6a6a" stroke-width="0.85" fill="none"/>
<path d="M908.23 129.6L916.26 135.04L924.29 129.6" stroke="#9a9a9a" stroke-width="0.85" fill="none"/>
<path d="M909.18 137.18L923.34 137.18" stroke="#6a6a6a" stroke-width="0.6"/>
<path d="M911.06 155.14L921.46 155.14" stroke="#6a6a6a" stroke-width="0.6"/>
<path d="M910.68 164L921.84 164" stroke="#6a6a6a" stroke-width="0.7"/>
<path d="M911.28 165.3L921.24 165.3" stroke="#9a9a9a" stroke-width="0.5"/>
<path d="M913.26 144.05L919.26 144.05L916.26 151.15Z" stroke="#6a6a6a" stroke-width="0.6" fill="none"/>
<path d="M914.76 146.55L917.76 146.55" stroke="#9a9a9a" stroke-width="0.5"/>
<rect x="913.06" y="156.34" width="6.4" height="6.26" stroke="#6a6a6a" stroke-width="0.55" fill="none"/>
<path d="M905.48 168L927.04 168" stroke="#7a7a7a" stroke-width="1.8"/>
<path d="M980.64 108.8L986.44 164" stroke="#6a6a6a" stroke-width="0.65"/>
<path d="M1003.4 108.8L997.6 164" stroke="#6a6a6a" stroke-width="0.65"/>
<path d="M981.94 108.8L987.74 164" stroke="#b8b8b8" stroke-width="0.4"/>
<path d="M1002.1 108.8L996.3 164" stroke="#b8b8b8" stroke-width="0.4"/>
<path d="M983.24 108.8L989.04 164" stroke="#6a6a6a" stroke-width="0.6"/>
<path d="M1000.8 108.8L995 164" stroke="#6a6a6a" stroke-width="0.6"/>
<path d="M984.44 111.5L986.44 164" stroke="#b8b8b8" stroke-width="0.4"/>
<path d="M999.6 111.5L997.6 164" stroke="#b8b8b8" stroke-width="0.4"/>
<path d="M982.99 118.5L1001.05 118.5" stroke="#6a6a6a" stroke-width="0.6"/>
<path d="M984.79 118.5L985.69 117.3L986.59 118.5" stroke="#6a6a6a" stroke-width="0.5" fill="none"/>
<path d="M997.45 118.5L998.35 117.3L999.25 118.5" stroke="#6a6a6a" stroke-width="0.5" fill="none"/>
<path d="M983.99 119.1L992.02 124.54L1000.05 119.1" stroke="#6a6a6a" stroke-width="0.85" fill="none"/>
<path d="M983.99 120.6L992.02 126.04L1000.05 120.6" stroke="#9a9a9a" stroke-width="0.85" fill="none"/>
<path d="M983.99 123.6L992.02 129.04L1000.05 123.6" stroke="#6a6a6a" stroke-width="0.85" fill="none"/>
<path d="M983.99 125.1L992.02 130.54L1000.05 125.1" stroke="#9a9a9a" stroke-width="0.85" fill="none"/>
<path d="M983.99 128.1L992.02 133.54L1000.05 128.1" stroke="#6a6a6a" stroke-width="0.85" fill="none"/>
<path d="M983.99 129.6L992.02 135.04L1000.05 129.6" stroke="#9a9a9a" stroke-width="0.85" fill="none"/>
<path d="M984.94 137.18L999.1 137.18" stroke="#6a6a6a" stroke-width="0.6"/>
<path d="M986.82 155.14L997.22 155.14" stroke="#6a6a6a" stroke-width="0.6"/>
<path d="M986.44 164L997.6 164" stroke="#6a6a6a" stroke-width="0.7"/>
<path d="M987.04 165.3L997 165.3" stroke="#9a9a9a" stroke-width="0.5"/>
<path d="M989.02 144.05L995.02 144.05L992.02 151.15Z" stroke="#6a6a6a" stroke-width="0.6" fill="none"/>
<path d="M990.52 146.55L993.52 146.55" stroke="#9a9a9a" stroke-width="0.5"/>
<rect x="988.82" y="156.34" width="6.4" height="6.26" stroke="#6a6a6a" stroke-width="0.55" fill="none"/>
<path d="M981.24 168L1002.8 168" stroke="#7a7a7a" stroke-width="1.8"/>
<path d="M468.4 108.5L544.8 108.5" stroke="#7c7c7c" stroke-width="1"/>
<path d="M468.4 111.5L541.6 111.5" stroke="#7c7c7c" stroke-width="1"/>
<path d="M468.5 108.5L468.5 167.8" stroke="#7c7c7c" stroke-width="1"/>
<path d="M468.5 111.2L468.5 167.8" stroke="#7c7c7c" stroke-width="1"/>
<path d="M480.5 111.2L480.5 167.8" stroke="#7c7c7c" stroke-width="1"/>
<path d="M468.4 134.5L480.4 134.5" stroke="#7c7c7c" stroke-width="1"/>
<path d="M468.4 158.5L480.4 158.5" stroke="#7c7c7c" stroke-width="1"/>
<path d="M468.4 167.5L480.4 167.5" stroke="#7c7c7c" stroke-width="1"/>
<path d="M530.5 111.2L530.5 167.8" stroke="#7c7c7c" stroke-width="1"/>
<path d="M541.5 111.2L541.5 167.8" stroke="#7c7c7c" stroke-width="1"/>
<path d="M530.7 134.5L541.2 134.5" stroke="#7c7c7c" stroke-width="1"/>
<path d="M530.7 158.5L541.2 158.5" stroke="#7c7c7c" stroke-width="1"/>
<path d="M530.7 167.5L541.2 167.5" stroke="#7c7c7c" stroke-width="1"/>
<path d="M481.8 166.8L481.8 113L529.2 113L529.2 166.8" stroke="#6a6a6a" stroke-width="0.7" fill="none"/>
<path d="M484.3 166.8L484.3 115.2L527 115.2L527 166.8" stroke="#6a6a6a" stroke-width="0.6" fill="none"/>
<path d="M495.5 115L495.5 166.8" stroke="#7c7c7c" stroke-width="1"/>
<path d="M515.5 115L515.5 166.8" stroke="#7c7c7c" stroke-width="1"/>
<path d="M484 135.5L527.2 135.5" stroke="#7c7c7c" stroke-width="1"/>
<path d="M500.5 135L500.5 166.8" stroke="#7c7c7c" stroke-width="1"/>
<path d="M501.5 135L501.5 166.8" stroke="#7c7c7c" stroke-width="1"/>
<path d="M501 150.5L501 152.5" stroke="#222" stroke-width="0.8"/>
<path d="M484 166.5L527.2 166.5" stroke="#7c7c7c" stroke-width="1"/>
<path d="M492.4 108.5L492.4 111.2" stroke="#4a4a4a" stroke-width="0.9"/>
<path d="M517.3 108.5L517.3 111.2" stroke="#4a4a4a" stroke-width="0.9"/>
<path d="M541.5 108.5L541.5 166.8" stroke="#7c7c7c" stroke-width="1"/>
<path d="M544.5 108.5L544.5 166.8" stroke="#7c7c7c" stroke-width="1"/>
<path d="M541.6 118.5L551 118.5" stroke="#ababab" stroke-width="1"/>
<path d="M541.6 137.5L551 137.5" stroke="#ababab" stroke-width="1"/>
<path d="M541.6 155.5L551 155.5" stroke="#ababab" stroke-width="1"/>
<path d="M553.9 108.8L547.8 164" stroke="#6a6a6a" stroke-width="0.55"/>
<path d="M552.6 108.8L546.5 164" stroke="#9a9a9a" stroke-width="0.55"/>
<path d="M551.3 108.8L545.2 164" stroke="#6a6a6a" stroke-width="0.55"/>
<path d="M550.1 111.5L547.8 164" stroke="#9a9a9a" stroke-width="0.5"/>
<path d="M544.6 164.5L548.2 164.5" stroke="#7c7c7c" stroke-width="1"/>
<path d="M545.8 159L545.6 162.8L547.1 162.8" stroke="#9a9a9a" stroke-width="0.5" fill="none"/>
<path d="M480.5 168L491.5 168" stroke="#7a7a7a" stroke-width="1.7"/>
<path d="M520 168L530 168" stroke="#7a7a7a" stroke-width="1.7"/>
<path d="M541.6 168L553 168" stroke="#7a7a7a" stroke-width="1.6"/>
<path d="M189 166.5L1056 166.5" stroke="#ababab" stroke-width="1"/>
<path d="M189 168.5L1056 168.5" stroke="#ababab" stroke-width="1"/>
<path d="M167 168L189 168" stroke="#6e6e6e" stroke-width="1.7"/>
<path d="M1056.7 168L1079 168" stroke="#6e6e6e" stroke-width="1.7"/>
<path d="M137.8 135.5L237 135.5" stroke="#ababab" stroke-width="1"/>
<path d="M1054.4 113.5L1107.8 113.5" stroke="#7c7c7c" stroke-width="1"/>
<path d="M176.7 289.5L703.6 289.5" stroke="#7c7c7c" stroke-width="1"/>
<path d="M176.5 289.6L176.5 378.3" stroke="#7c7c7c" stroke-width="1"/>
<path d="M176.7 305.5L704.6 305.5" stroke="#7c7c7c" stroke-width="1"/>
<path d="M176.7 308.5L704.6 308.5" stroke="#ababab" stroke-width="1"/>
<path d="M176.7 312.5L702.6 312.5" stroke="#7c7c7c" stroke-width="1"/>
<path d="M180.5 312.2L180.5 378.3" stroke="#ababab" stroke-width="1"/>
<path d="M190.5 312.2L190.5 376.8" stroke="#7c7c7c" stroke-width="1"/>
<path d="M205.5 312.2L205.5 376.8" stroke="#7c7c7c" stroke-width="1"/>
<path d="M220.5 312.2L220.5 376.8" stroke="#7c7c7c" stroke-width="1"/>
<path d="M236.5 312.2L236.5 376.8" stroke="#7c7c7c" stroke-width="1"/>
<path d="M251.5 312.2L251.5 376.8" stroke="#7c7c7c" stroke-width="1"/>
<path d="M266.5 312.2L266.5 376.8" stroke="#7c7c7c" stroke-width="1"/>
<path d="M281.5 312.2L281.5 376.8" stroke="#7c7c7c" stroke-width="1"/>
<path d="M296.5 312.2L296.5 376.8" stroke="#7c7c7c" stroke-width="1"/>
<path d="M311.5 312.2L311.5 376.8" stroke="#7c7c7c" stroke-width="1"/>
<path d="M326.5 312.2L326.5 376.8" stroke="#7c7c7c" stroke-width="1"/>
<path d="M342.5 312.2L342.5 376.8" stroke="#7c7c7c" stroke-width="1"/>
<path d="M357.5 312.2L357.5 376.8" stroke="#7c7c7c" stroke-width="1"/>
<path d="M372.5 312.2L372.5 376.8" stroke="#7c7c7c" stroke-width="1"/>
<path d="M387.5 312.2L387.5 376.8" stroke="#7c7c7c" stroke-width="1"/>
<path d="M402.5 312.2L402.5 376.8" stroke="#7c7c7c" stroke-width="1"/>
<path d="M417.5 312.2L417.5 376.8" stroke="#7c7c7c" stroke-width="1"/>
<path d="M433.5 312.2L433.5 376.8" stroke="#7c7c7c" stroke-width="1"/>
<path d="M448.5 312.2L448.5 376.8" stroke="#7c7c7c" stroke-width="1"/>
<path d="M463.5 312.2L463.5 376.8" stroke="#7c7c7c" stroke-width="1"/>
<path d="M478.5 312.2L478.5 376.8" stroke="#7c7c7c" stroke-width="1"/>
<path d="M493.5 312.2L493.5 376.8" stroke="#7c7c7c" stroke-width="1"/>
<path d="M508.5 312.2L508.5 376.8" stroke="#7c7c7c" stroke-width="1"/>
<path d="M523.5 312.2L523.5 376.8" stroke="#7c7c7c" stroke-width="1"/>
<path d="M539.5 312.2L539.5 376.8" stroke="#7c7c7c" stroke-width="1"/>
<path d="M554.5 312.2L554.5 376.8" stroke="#7c7c7c" stroke-width="1"/>
<path d="M569.5 312.2L569.5 376.8" stroke="#7c7c7c" stroke-width="1"/>
<path d="M584.5 312.2L584.5 376.8" stroke="#7c7c7c" stroke-width="1"/>
<path d="M599.5 312.2L599.5 376.8" stroke="#7c7c7c" stroke-width="1"/>
<path d="M614.5 312.2L614.5 376.8" stroke="#7c7c7c" stroke-width="1"/>
<path d="M629.5 312.2L629.5 376.8" stroke="#7c7c7c" stroke-width="1"/>
<path d="M645.5 312.2L645.5 376.8" stroke="#7c7c7c" stroke-width="1"/>
<path d="M660.5 312.2L660.5 376.8" stroke="#7c7c7c" stroke-width="1"/>
<path d="M675.5 312.2L675.5 376.8" stroke="#7c7c7c" stroke-width="1"/>
<path d="M690.5 312.2L690.5 376.8" stroke="#7c7c7c" stroke-width="1"/>
<path d="M702.5 312.2L702.5 378.3" stroke="#ababab" stroke-width="1"/>
<path d="M703.5 289.6L703.5 312.2" stroke="#7c7c7c" stroke-width="1"/>
<path d="M176.7 376.5L707 376.5" stroke="#ababab" stroke-width="1"/>
<path d="M704.4 289.6L704.4 283L707.3 283L707.3 378.3" stroke="#6a6a6a" stroke-width="0.7" fill="none"/>
<path d="M705.5 285L705.5 312" stroke="#ababab" stroke-width="1"/>
<path d="M703.6 305.5L707.3 305.5" stroke="#7c7c7c" stroke-width="1"/>
<path d="M712.4 283.5L1107.8 283.5" stroke="#ababab" stroke-width="1"/>
<path d="M707.3 293.5L1068.9 293.5" stroke="#7c7c7c" stroke-width="1"/>
<path d="M1068.5 293.4L1068.5 378.3" stroke="#7c7c7c" stroke-width="1"/>
<path d="M707.3 313.5L1068.9 313.5" stroke="#ababab" stroke-width="1"/>
<path d="M707.3 316.5L1068.9 316.5" stroke="#7c7c7c" stroke-width="1"/>
<path d="M707.3 318.5L1065.9 318.5" stroke="#ababab" stroke-width="1"/>
<path d="M777.5 318.7L777.5 328.4" stroke="#7c7c7c" stroke-width="1"/>
<path d="M827.5 318.7L827.5 328.4" stroke="#7c7c7c" stroke-width="1"/>
<path d="M853.5 318.7L853.5 328.4" stroke="#7c7c7c" stroke-width="1"/>
<path d="M902.5 318.7L902.5 328.4" stroke="#7c7c7c" stroke-width="1"/>
<path d="M928.5 318.7L928.5 328.4" stroke="#7c7c7c" stroke-width="1"/>
<path d="M978.5 318.7L978.5 328.4" stroke="#7c7c7c" stroke-width="1"/>
<path d="M1004.5 318.7L1004.5 328.4" stroke="#7c7c7c" stroke-width="1"/>
<path d="M1054.5 318.7L1054.5 328.4" stroke="#7c7c7c" stroke-width="1"/>
<path d="M715.5 318.7L715.5 328.4" stroke="#7c7c7c" stroke-width="1"/>
<path d="M765.5 318.7L765.5 328.4" stroke="#7c7c7c" stroke-width="1"/>
<rect x="708.6" y="319.2" width="6.7" height="9.2" stroke="#9a9a9a" stroke-width="0.6" fill="none"/>
<path d="M774.5 328.4L829.9 328.4" stroke="#6a6a6a" stroke-width="0.8"/>
<path d="M775 330.1L829.4 330.1" stroke="#9a9a9a" stroke-width="0.6"/>
<path d="M777.7 331.7L826.7 331.7" stroke="#6a6a6a" stroke-width="0.6"/>
<path d="M777.5 331.7L777.5 378" stroke="#666" stroke-width="0.75"/>
<path d="M826.9 331.7L826.9 378" stroke="#666" stroke-width="0.75"/>
<path d="M779 331.7L779 378" stroke="#9a9a9a" stroke-width="0.6"/>
<path d="M825.4 331.7L825.4 378" stroke="#9a9a9a" stroke-width="0.6"/>
<path d="M779.8 378.3L779.8 333.4L824.6 333.4L824.6 378.3" stroke="#6a6a6a" stroke-width="0.6" fill="none"/>
<path d="M781 378.3L781 335.2L823.4 335.2L823.4 378.3" stroke="#9a9a9a" stroke-width="0.6" fill="none"/>
<path d="M781.3 334.4L823.1 334.4" stroke="#9a9a9a" stroke-width="0.5"/>
<path d="M781 335.3L823.4 335.3" stroke="#4a4a4a" stroke-width="1.25"/>
<path d="M781 346.7L823.4 346.7" stroke="#4a4a4a" stroke-width="1.25"/>
<path d="M781 361.9L823.4 361.9" stroke="#4a4a4a" stroke-width="1.25"/>
<path d="M781.3 335.3L781.3 377.9" stroke="#4a4a4a" stroke-width="0.9"/>
<path d="M823.1 335.3L823.1 377.9" stroke="#4a4a4a" stroke-width="0.9"/>
<path d="M795.2 335.3L795.2 361.9" stroke="#4a4a4a" stroke-width="1"/>
<path d="M809.2 335.3L809.2 361.9" stroke="#4a4a4a" stroke-width="1"/>
<rect x="796.2" y="348.1" width="12" height="12.6" stroke="#6a6a6a" stroke-width="0.6" fill="none"/>
<path d="M794.8 361.9L794.8 378" stroke="#6a6a6a" stroke-width="0.75"/>
<path d="M796.5 361.9L796.5 378" stroke="#6a6a6a" stroke-width="0.75"/>
<path d="M807.8 361.9L807.8 378" stroke="#6a6a6a" stroke-width="0.75"/>
<path d="M809.7 361.9L809.7 378" stroke="#6a6a6a" stroke-width="0.75"/>
<path d="M796.8 362.5L796.8 363.9" stroke="#222" stroke-width="0.8"/>
<path d="M781.3 377.8L823.1 377.8" stroke="#6a6a6a" stroke-width="0.6"/>
<path d="M850.25 328.4L905.65 328.4" stroke="#6a6a6a" stroke-width="0.8"/>
<path d="M850.75 330.1L905.15 330.1" stroke="#9a9a9a" stroke-width="0.6"/>
<path d="M853.45 331.7L902.45 331.7" stroke="#6a6a6a" stroke-width="0.6"/>
<path d="M853.25 331.7L853.25 378" stroke="#666" stroke-width="0.75"/>
<path d="M902.65 331.7L902.65 378" stroke="#666" stroke-width="0.75"/>
<path d="M854.75 331.7L854.75 378" stroke="#9a9a9a" stroke-width="0.6"/>
<path d="M901.15 331.7L901.15 378" stroke="#9a9a9a" stroke-width="0.6"/>
<path d="M855.55 378.3L855.55 333.4L900.35 333.4L900.35 378.3" stroke="#6a6a6a" stroke-width="0.6" fill="none"/>
<path d="M856.75 378.3L856.75 335.2L899.15 335.2L899.15 378.3" stroke="#9a9a9a" stroke-width="0.6" fill="none"/>
<path d="M857.05 334.4L898.85 334.4" stroke="#9a9a9a" stroke-width="0.5"/>
<path d="M856.75 335.3L899.15 335.3" stroke="#4a4a4a" stroke-width="1.25"/>
<path d="M856.75 346.7L899.15 346.7" stroke="#4a4a4a" stroke-width="1.25"/>
<path d="M856.75 361.9L899.15 361.9" stroke="#4a4a4a" stroke-width="1.25"/>
<path d="M857.05 335.3L857.05 377.9" stroke="#4a4a4a" stroke-width="0.9"/>
<path d="M898.85 335.3L898.85 377.9" stroke="#4a4a4a" stroke-width="0.9"/>
<path d="M870.95 335.3L870.95 361.9" stroke="#4a4a4a" stroke-width="1"/>
<path d="M884.95 335.3L884.95 361.9" stroke="#4a4a4a" stroke-width="1"/>
<rect x="871.95" y="348.1" width="12" height="12.6" stroke="#6a6a6a" stroke-width="0.6" fill="none"/>
<path d="M870.55 361.9L870.55 378" stroke="#6a6a6a" stroke-width="0.75"/>
<path d="M872.25 361.9L872.25 378" stroke="#6a6a6a" stroke-width="0.75"/>
<path d="M883.55 361.9L883.55 378" stroke="#6a6a6a" stroke-width="0.75"/>
<path d="M885.45 361.9L885.45 378" stroke="#6a6a6a" stroke-width="0.75"/>
<path d="M872.55 362.5L872.55 363.9" stroke="#222" stroke-width="0.8"/>
<path d="M857.05 377.8L898.85 377.8" stroke="#6a6a6a" stroke-width="0.6"/>
<path d="M926 328.4L981.4 328.4" stroke="#6a6a6a" stroke-width="0.8"/>
<path d="M926.5 330.1L980.9 330.1" stroke="#9a9a9a" stroke-width="0.6"/>
<path d="M929.2 331.7L978.2 331.7" stroke="#6a6a6a" stroke-width="0.6"/>
<path d="M929 331.7L929 378" stroke="#666" stroke-width="0.75"/>
<path d="M978.4 331.7L978.4 378" stroke="#666" stroke-width="0.75"/>
<path d="M930.5 331.7L930.5 378" stroke="#9a9a9a" stroke-width="0.6"/>
<path d="M976.9 331.7L976.9 378" stroke="#9a9a9a" stroke-width="0.6"/>
<path d="M931.3 378.3L931.3 333.4L976.1 333.4L976.1 378.3" stroke="#6a6a6a" stroke-width="0.6" fill="none"/>
<path d="M932.5 378.3L932.5 335.2L974.9 335.2L974.9 378.3" stroke="#9a9a9a" stroke-width="0.6" fill="none"/>
<path d="M932.8 334.4L974.6 334.4" stroke="#9a9a9a" stroke-width="0.5"/>
<path d="M932.5 335.3L974.9 335.3" stroke="#4a4a4a" stroke-width="1.25"/>
<path d="M932.5 346.7L974.9 346.7" stroke="#4a4a4a" stroke-width="1.25"/>
<path d="M932.5 361.9L974.9 361.9" stroke="#4a4a4a" stroke-width="1.25"/>
<path d="M932.8 335.3L932.8 377.9" stroke="#4a4a4a" stroke-width="0.9"/>
<path d="M974.6 335.3L974.6 377.9" stroke="#4a4a4a" stroke-width="0.9"/>
<path d="M946.7 335.3L946.7 361.9" stroke="#4a4a4a" stroke-width="1"/>
<path d="M960.7 335.3L960.7 361.9" stroke="#4a4a4a" stroke-width="1"/>
<rect x="947.7" y="348.1" width="12" height="12.6" stroke="#6a6a6a" stroke-width="0.6" fill="none"/>
<path d="M946.3 361.9L946.3 378" stroke="#6a6a6a" stroke-width="0.75"/>
<path d="M948 361.9L948 378" stroke="#6a6a6a" stroke-width="0.75"/>
<path d="M959.3 361.9L959.3 378" stroke="#6a6a6a" stroke-width="0.75"/>
<path d="M961.2 361.9L961.2 378" stroke="#6a6a6a" stroke-width="0.75"/>
<path d="M948.3 362.5L948.3 363.9" stroke="#222" stroke-width="0.8"/>
<path d="M932.8 377.8L974.6 377.8" stroke="#6a6a6a" stroke-width="0.6"/>
<path d="M1001.75 328.4L1057.15 328.4" stroke="#6a6a6a" stroke-width="0.8"/>
<path d="M1002.25 330.1L1056.65 330.1" stroke="#9a9a9a" stroke-width="0.6"/>
<path d="M1004.95 331.7L1053.95 331.7" stroke="#6a6a6a" stroke-width="0.6"/>
<path d="M1004.75 331.7L1004.75 378" stroke="#666" stroke-width="0.75"/>
<path d="M1054.15 331.7L1054.15 378" stroke="#666" stroke-width="0.75"/>
<path d="M1006.25 331.7L1006.25 378" stroke="#9a9a9a" stroke-width="0.6"/>
<path d="M1052.65 331.7L1052.65 378" stroke="#9a9a9a" stroke-width="0.6"/>
<path d="M1007.05 378.3L1007.05 333.4L1051.85 333.4L1051.85 378.3" stroke="#6a6a6a" stroke-width="0.6" fill="none"/>
<path d="M1008.25 378.3L1008.25 335.2L1050.65 335.2L1050.65 378.3" stroke="#9a9a9a" stroke-width="0.6" fill="none"/>
<path d="M1008.55 334.4L1050.35 334.4" stroke="#9a9a9a" stroke-width="0.5"/>
<path d="M1008.25 335.3L1050.65 335.3" stroke="#4a4a4a" stroke-width="1.25"/>
<path d="M1008.25 346.7L1050.65 346.7" stroke="#4a4a4a" stroke-width="1.25"/>
<path d="M1008.25 361.9L1050.65 361.9" stroke="#4a4a4a" stroke-width="1.25"/>
<path d="M1008.55 335.3L1008.55 377.9" stroke="#4a4a4a" stroke-width="0.9"/>
<path d="M1050.35 335.3L1050.35 377.9" stroke="#4a4a4a" stroke-width="0.9"/>
<path d="M1022.45 335.3L1022.45 361.9" stroke="#4a4a4a" stroke-width="1"/>
<path d="M1036.45 335.3L1036.45 361.9" stroke="#4a4a4a" stroke-width="1"/>
<rect x="1023.45" y="348.1" width="12" height="12.6" stroke="#6a6a6a" stroke-width="0.6" fill="none"/>
<path d="M1022.05 361.9L1022.05 378" stroke="#6a6a6a" stroke-width="0.75"/>
<path d="M1023.75 361.9L1023.75 378" stroke="#6a6a6a" stroke-width="0.75"/>
<path d="M1035.05 361.9L1035.05 378" stroke="#6a6a6a" stroke-width="0.75"/>
<path d="M1036.95 361.9L1036.95 378" stroke="#6a6a6a" stroke-width="0.75"/>
<path d="M1024.05 362.5L1024.05 363.9" stroke="#222" stroke-width="0.8"/>
<path d="M1008.55 377.8L1050.35 377.8" stroke="#6a6a6a" stroke-width="0.6"/>
<path d="M828.7 328.7L834.5 375.5" stroke="#6a6a6a" stroke-width="0.65"/>
<path d="M851.45 328.7L845.65 375.5" stroke="#6a6a6a" stroke-width="0.65"/>
<path d="M830 328.7L835.8 375.5" stroke="#b8b8b8" stroke-width="0.4"/>
<path d="M850.15 328.7L844.35 375.5" stroke="#b8b8b8" stroke-width="0.4"/>
<path d="M831.3 328.7L837.1 375.5" stroke="#6a6a6a" stroke-width="0.6"/>
<path d="M848.85 328.7L843.05 375.5" stroke="#6a6a6a" stroke-width="0.6"/>
<path d="M832.5 331.4L834.5 375.5" stroke="#b8b8b8" stroke-width="0.4"/>
<path d="M847.65 331.4L845.65 375.5" stroke="#b8b8b8" stroke-width="0.4"/>
<path d="M830.38 331.5L849.77 331.5" stroke="#6a6a6a" stroke-width="0.6"/>
<path d="M832.18 331.5L833.08 330.3L833.98 331.5" stroke="#6a6a6a" stroke-width="0.5" fill="none"/>
<path d="M846.17 331.5L847.07 330.3L847.97 331.5" stroke="#6a6a6a" stroke-width="0.5" fill="none"/>
<path d="M833.08 332.6L840.08 339.6L847.08 332.6" stroke="#6a6a6a" stroke-width="0.85" fill="none"/>
<path d="M833.08 334.1L840.08 341.1L847.08 334.1" stroke="#9a9a9a" stroke-width="0.85" fill="none"/>
<path d="M833.08 337L840.08 344L847.08 337" stroke="#6a6a6a" stroke-width="0.85" fill="none"/>
<path d="M833.08 338.5L840.08 345.5L847.08 338.5" stroke="#9a9a9a" stroke-width="0.85" fill="none"/>
<path d="M833.08 341.4L840.08 348.4L847.08 341.4" stroke="#6a6a6a" stroke-width="0.85" fill="none"/>
<path d="M833.08 342.9L840.08 349.9L847.08 342.9" stroke="#9a9a9a" stroke-width="0.85" fill="none"/>
<path d="M832.57 349.3L847.58 349.3" stroke="#6a6a6a" stroke-width="0.6"/>
<path d="M834.91 368.3L845.24 368.3" stroke="#6a6a6a" stroke-width="0.6"/>
<path d="M834.5 375.5L845.65 375.5" stroke="#6a6a6a" stroke-width="0.7"/>
<path d="M835.1 376.8L845.05 376.8" stroke="#9a9a9a" stroke-width="0.5"/>
<path d="M837.08 359.7L843.08 359.7L840.08 366.8Z" stroke="#6a6a6a" stroke-width="0.6" fill="none"/>
<path d="M838.58 362.2L841.58 362.2" stroke="#9a9a9a" stroke-width="0.5"/>
<rect x="836.88" y="369.5" width="6.4" height="4.6" stroke="#6a6a6a" stroke-width="0.55" fill="none"/>
<path d="M829.3 380L850.85 380" stroke="#7a7a7a" stroke-width="1.8"/>
<path d="M827.1 331.5L853.05 331.5" stroke="#7c7c7c" stroke-width="1"/>
<path d="M904.45 328.7L910.25 375.5" stroke="#6a6a6a" stroke-width="0.65"/>
<path d="M927.2 328.7L921.4 375.5" stroke="#6a6a6a" stroke-width="0.65"/>
<path d="M905.75 328.7L911.55 375.5" stroke="#b8b8b8" stroke-width="0.4"/>
<path d="M925.9 328.7L920.1 375.5" stroke="#b8b8b8" stroke-width="0.4"/>
<path d="M907.05 328.7L912.85 375.5" stroke="#6a6a6a" stroke-width="0.6"/>
<path d="M924.6 328.7L918.8 375.5" stroke="#6a6a6a" stroke-width="0.6"/>
<path d="M908.25 331.4L910.25 375.5" stroke="#b8b8b8" stroke-width="0.4"/>
<path d="M923.4 331.4L921.4 375.5" stroke="#b8b8b8" stroke-width="0.4"/>
<path d="M906.13 331.5L925.52 331.5" stroke="#6a6a6a" stroke-width="0.6"/>
<path d="M907.93 331.5L908.83 330.3L909.73 331.5" stroke="#6a6a6a" stroke-width="0.5" fill="none"/>
<path d="M921.92 331.5L922.82 330.3L923.72 331.5" stroke="#6a6a6a" stroke-width="0.5" fill="none"/>
<path d="M908.83 332.6L915.83 339.6L922.83 332.6" stroke="#6a6a6a" stroke-width="0.85" fill="none"/>
<path d="M908.83 334.1L915.83 341.1L922.83 334.1" stroke="#9a9a9a" stroke-width="0.85" fill="none"/>
<path d="M908.83 337L915.83 344L922.83 337" stroke="#6a6a6a" stroke-width="0.85" fill="none"/>
<path d="M908.83 338.5L915.83 345.5L922.83 338.5" stroke="#9a9a9a" stroke-width="0.85" fill="none"/>
<path d="M908.83 341.4L915.83 348.4L922.83 341.4" stroke="#6a6a6a" stroke-width="0.85" fill="none"/>
<path d="M908.83 342.9L915.83 349.9L922.83 342.9" stroke="#9a9a9a" stroke-width="0.85" fill="none"/>
<path d="M908.32 349.3L923.33 349.3" stroke="#6a6a6a" stroke-width="0.6"/>
<path d="M910.66 368.3L920.99 368.3" stroke="#6a6a6a" stroke-width="0.6"/>
<path d="M910.25 375.5L921.4 375.5" stroke="#6a6a6a" stroke-width="0.7"/>
<path d="M910.85 376.8L920.8 376.8" stroke="#9a9a9a" stroke-width="0.5"/>
<path d="M912.83 359.7L918.83 359.7L915.83 366.8Z" stroke="#6a6a6a" stroke-width="0.6" fill="none"/>
<path d="M914.33 362.2L917.33 362.2" stroke="#9a9a9a" stroke-width="0.5"/>
<rect x="912.62" y="369.5" width="6.4" height="4.6" stroke="#6a6a6a" stroke-width="0.55" fill="none"/>
<path d="M905.05 380L926.6 380" stroke="#7a7a7a" stroke-width="1.8"/>
<path d="M902.85 331.5L928.8 331.5" stroke="#7c7c7c" stroke-width="1"/>
<path d="M980.2 328.7L986 375.5" stroke="#6a6a6a" stroke-width="0.65"/>
<path d="M1002.95 328.7L997.15 375.5" stroke="#6a6a6a" stroke-width="0.65"/>
<path d="M981.5 328.7L987.3 375.5" stroke="#b8b8b8" stroke-width="0.4"/>
<path d="M1001.65 328.7L995.85 375.5" stroke="#b8b8b8" stroke-width="0.4"/>
<path d="M982.8 328.7L988.6 375.5" stroke="#6a6a6a" stroke-width="0.6"/>
<path d="M1000.35 328.7L994.55 375.5" stroke="#6a6a6a" stroke-width="0.6"/>
<path d="M984 331.4L986 375.5" stroke="#b8b8b8" stroke-width="0.4"/>
<path d="M999.15 331.4L997.15 375.5" stroke="#b8b8b8" stroke-width="0.4"/>
<path d="M981.88 331.5L1001.27 331.5" stroke="#6a6a6a" stroke-width="0.6"/>
<path d="M983.68 331.5L984.58 330.3L985.48 331.5" stroke="#6a6a6a" stroke-width="0.5" fill="none"/>
<path d="M997.67 331.5L998.57 330.3L999.47 331.5" stroke="#6a6a6a" stroke-width="0.5" fill="none"/>
<path d="M984.58 332.6L991.58 339.6L998.58 332.6" stroke="#6a6a6a" stroke-width="0.85" fill="none"/>
<path d="M984.58 334.1L991.58 341.1L998.58 334.1" stroke="#9a9a9a" stroke-width="0.85" fill="none"/>
<path d="M984.58 337L991.58 344L998.58 337" stroke="#6a6a6a" stroke-width="0.85" fill="none"/>
<path d="M984.58 338.5L991.58 345.5L998.58 338.5" stroke="#9a9a9a" stroke-width="0.85" fill="none"/>
<path d="M984.58 341.4L991.58 348.4L998.58 341.4" stroke="#6a6a6a" stroke-width="0.85" fill="none"/>
<path d="M984.58 342.9L991.58 349.9L998.58 342.9" stroke="#9a9a9a" stroke-width="0.85" fill="none"/>
<path d="M984.07 349.3L999.08 349.3" stroke="#6a6a6a" stroke-width="0.6"/>
<path d="M986.41 368.3L996.74 368.3" stroke="#6a6a6a" stroke-width="0.6"/>
<path d="M986 375.5L997.15 375.5" stroke="#6a6a6a" stroke-width="0.7"/>
<path d="M986.6 376.8L996.55 376.8" stroke="#9a9a9a" stroke-width="0.5"/>
<path d="M988.58 359.7L994.58 359.7L991.58 366.8Z" stroke="#6a6a6a" stroke-width="0.6" fill="none"/>
<path d="M990.08 362.2L993.08 362.2" stroke="#9a9a9a" stroke-width="0.5"/>
<rect x="988.38" y="369.5" width="6.4" height="4.6" stroke="#6a6a6a" stroke-width="0.55" fill="none"/>
<path d="M980.8 380L1002.35 380" stroke="#7a7a7a" stroke-width="1.8"/>
<path d="M978.6 331.5L1004.55 331.5" stroke="#7c7c7c" stroke-width="1"/>
<path d="M1067.5 318.7L1067.5 378.3" stroke="#ababab" stroke-width="1"/>
<path d="M1065.5 318.7L1065.5 378.3" stroke="#ababab" stroke-width="1"/>
<path d="M1058 331.5L1068.9 331.5" stroke="#ababab" stroke-width="1"/>
<path d="M1058 349.5L1068.9 349.5" stroke="#ababab" stroke-width="1"/>
<path d="M1058 368.5L1068.9 368.5" stroke="#ababab" stroke-width="1"/>
<path d="M1055.95 328.7L1064.3 375.5" stroke="#6a6a6a" stroke-width="0.55"/>
<path d="M1057.25 328.7L1065.6 375.5" stroke="#9a9a9a" stroke-width="0.55"/>
<path d="M1058.55 328.7L1066.9 375.5" stroke="#6a6a6a" stroke-width="0.55"/>
<path d="M1059.75 331.4L1064.3 375.5" stroke="#9a9a9a" stroke-width="0.5"/>
<path d="M1067.5 375.5L1063.9 375.5" stroke="#7c7c7c" stroke-width="1"/>
<path d="M1066.3 370.5L1066.5 374.3L1065 374.3" stroke="#9a9a9a" stroke-width="0.5" fill="none"/>
<path d="M707.3 328.5L768.4 328.5" stroke="#7c7c7c" stroke-width="1"/>
<path d="M707.3 331.5L768.4 331.5" stroke="#7c7c7c" stroke-width="1"/>
<path d="M711.5 331.2L711.5 378.3" stroke="#7c7c7c" stroke-width="1"/>
<path d="M715.5 331.2L715.5 378.3" stroke="#7c7c7c" stroke-width="1"/>
<path d="M717.3 378.3L717.3 333.7L763.2 333.7L763.2 378.3" stroke="#6a6a6a" stroke-width="0.7" fill="none"/>
<path d="M719.6 378.3L719.6 335.4L761.2 335.4L761.2 378.3" stroke="#6a6a6a" stroke-width="0.6" fill="none"/>
<path d="M730.5 335.4L730.5 378.3" stroke="#7c7c7c" stroke-width="1"/>
<path d="M750.5 335.4L750.5 378.3" stroke="#7c7c7c" stroke-width="1"/>
<path d="M719.6 346.5L761.2 346.5" stroke="#7c7c7c" stroke-width="1"/>
<path d="M744.5 346.7L744.5 378.3" stroke="#7c7c7c" stroke-width="1"/>
<path d="M745.5 346.7L745.5 378.3" stroke="#7c7c7c" stroke-width="1"/>
<path d="M745.2 361.5L745.2 363.5" stroke="#222" stroke-width="0.8"/>
<path d="M764.5 331.2L764.5 378.3" stroke="#ababab" stroke-width="1"/>
<path d="M766.5 331.2L766.5 378.3" stroke="#ababab" stroke-width="1"/>
<path d="M768.5 331.2L768.5 378.3" stroke="#7c7c7c" stroke-width="1"/>
<path d="M768.4 331.5L776 331.5" stroke="#ababab" stroke-width="1"/>
<path d="M768.4 349.5L776 349.5" stroke="#ababab" stroke-width="1"/>
<path d="M768.4 368.5L776 368.5" stroke="#ababab" stroke-width="1"/>
<path d="M775.7 328.7L769.8 375.5" stroke="#6a6a6a" stroke-width="0.55"/>
<path d="M774.4 328.7L768.5 375.5" stroke="#9a9a9a" stroke-width="0.55"/>
<path d="M773.1 328.7L767.2 375.5" stroke="#6a6a6a" stroke-width="0.55"/>
<path d="M771.9 331.4L769.8 375.5" stroke="#9a9a9a" stroke-width="0.5"/>
<path d="M766.6 375.5L770.2 375.5" stroke="#7c7c7c" stroke-width="1"/>
<path d="M767.8 370.5L767.6 374.3L769.1 374.3" stroke="#9a9a9a" stroke-width="0.5" fill="none"/>
<path d="M176.7 378.5L707 378.5" stroke="#7c7c7c" stroke-width="1"/>
<path d="M707 380.5L1056 380.5" stroke="#ababab" stroke-width="1"/>
<path d="M167 379.4L706 379.4" stroke="#6e6e6e" stroke-width="1.4"/>
<path d="M708 379.8L718 379.8" stroke="#7a7a7a" stroke-width="1.6"/>
<path d="M754 380L775 380" stroke="#7a7a7a" stroke-width="1.7"/>
<path d="M1056.7 380L1079 380" stroke="#6e6e6e" stroke-width="1.7"/>
<path d="M1022 346.5L1107.8 346.5" stroke="#7c7c7c" stroke-width="1"/>
<path d="M1057.8 332.5L1107.8 332.5" stroke="#7c7c7c" stroke-width="1"/>
<path d="M236.8 622L236.8 525.6L498.9 548" stroke="#6a6a6a" stroke-width="0.8" fill="none"/>
<path d="M237.3 528.14L502.7 551.02L502.7 553.92L286.7 535.26" stroke="#6a6a6a" stroke-width="0.7" fill="none"/>
<path d="M498.9 548L502.7 551.02" stroke="#6a6a6a" stroke-width="0.6"/>
<rect x="229.5" y="545.5" width="52.7" height="75.7" stroke="#6a6a6a" stroke-width="0.7" fill="none"/>
<path d="M237.5 545.5L237.5 622" stroke="#7c7c7c" stroke-width="1"/>
<path d="M235.6 545.5L235.6 535.2L236.8 535.2" stroke="#6a6a6a" stroke-width="0.6" fill="none"/>
<path d="M280.5 532.3L280.5 545.5" stroke="#7c7c7c" stroke-width="1"/>
<path d="M282.5 532.48L282.5 545.5" stroke="#ababab" stroke-width="1"/>
<path d="M229.5 562.5L282.2 562.5" stroke="#7c7c7c" stroke-width="1"/>
<path d="M229.5 564.5L282.2 564.5" stroke="#ababab" stroke-width="1"/>
<path d="M229.5 565.5L282.2 565.5" stroke="#7c7c7c" stroke-width="1"/>
<path d="M229.5 589.5L282.2 589.5" stroke="#7c7c7c" stroke-width="1"/>
<path d="M229.5 612.5L282.2 612.5" stroke="#7c7c7c" stroke-width="1"/>
<path d="M229.5 619.5L282.2 619.5" stroke="#7c7c7c" stroke-width="1"/>
<path d="M283.5 534.98L283.5 622" stroke="#ababab" stroke-width="1"/>
<path d="M286.5 535.26L286.5 622" stroke="#7c7c7c" stroke-width="1"/>
<path d="M299.5 536.48L299.5 620.5" stroke="#7c7c7c" stroke-width="1"/>
<path d="M314.5 537.77L314.5 620.5" stroke="#7c7c7c" stroke-width="1"/>
<path d="M329.5 539.06L329.5 620.5" stroke="#7c7c7c" stroke-width="1"/>
<path d="M345.5 540.35L345.5 620.5" stroke="#7c7c7c" stroke-width="1"/>
<path d="M360.5 541.65L360.5 620.5" stroke="#7c7c7c" stroke-width="1"/>
<path d="M375.5 542.94L375.5 620.5" stroke="#7c7c7c" stroke-width="1"/>
<path d="M390.5 544.23L390.5 620.5" stroke="#7c7c7c" stroke-width="1"/>
<path d="M405.5 545.53L405.5 620.5" stroke="#7c7c7c" stroke-width="1"/>
<path d="M420.5 546.82L420.5 620.5" stroke="#7c7c7c" stroke-width="1"/>
<path d="M435.5 548.11L435.5 620.5" stroke="#7c7c7c" stroke-width="1"/>
<path d="M451.5 549.41L451.5 620.5" stroke="#7c7c7c" stroke-width="1"/>
<path d="M466.5 550.7L466.5 620.5" stroke="#7c7c7c" stroke-width="1"/>
<path d="M481.5 551.99L481.5 620.5" stroke="#7c7c7c" stroke-width="1"/>
<path d="M494.5 553.13L494.5 622" stroke="#7c7c7c" stroke-width="1"/>
<path d="M498.5 553.45L498.5 622" stroke="#7c7c7c" stroke-width="1"/>
<path d="M283 620.5L499 620.5" stroke="#ababab" stroke-width="1"/>
<rect x="213.5" y="621.4" width="23.5" height="2.2" stroke="#6a6a6a" stroke-width="0.6" fill="none"/>
<path d="M229 622.6L508 622.6" stroke="#555" stroke-width="1.5"/>
<path d="M245 622.5L282 620.2" stroke="#9a9a9a" stroke-width="0.5"/>
<path d="M747.6 622L747.6 548L1008.7 525.5L1008.7 535.8" stroke="#6a6a6a" stroke-width="0.8" fill="none"/>
<path d="M747.6 551.6L743.4 551.8L743.4 554.7L747.6 554.7" stroke="#6a6a6a" stroke-width="0.6" fill="none"/>
<path d="M773.3 556.5L1009.5 536.08" stroke="#6a6a6a" stroke-width="0.8"/>
<path d="M751.5 549.86L1008 527.76" stroke="#9a9a9a" stroke-width="0.5"/>
<path d="M751.5 547.67L751.5 622" stroke="#7c7c7c" stroke-width="1"/>
<path d="M764.5 546.54L764.5 621" stroke="#7c7c7c" stroke-width="1"/>
<path d="M747.6 556.5L769 556.5" stroke="#7c7c7c" stroke-width="1"/>
<path d="M773.5 556.47L773.5 622" stroke="#ababab" stroke-width="1"/>
<path d="M777.5 545.44L777.5 556.15" stroke="#ababab" stroke-width="1"/>
<path d="M779.5 545.27L779.5 555.98" stroke="#7c7c7c" stroke-width="1"/>
<path d="M777.5 558.7L777.5 622" stroke="#7c7c7c" stroke-width="1"/>
<path d="M782.5 558.7L782.5 622" stroke="#ababab" stroke-width="1"/>
<path d="M773.6 558.5L782 558.5" stroke="#ababab" stroke-width="1"/>
<path d="M777.3 572.8L777.3 574.4" stroke="#222" stroke-width="0.9"/>
<path d="M794.5 543.93L794.5 620.5" stroke="#7c7c7c" stroke-width="1"/>
<path d="M809.5 542.63L809.5 620.5" stroke="#7c7c7c" stroke-width="1"/>
<path d="M825.5 541.32L825.5 620.5" stroke="#7c7c7c" stroke-width="1"/>
<path d="M840.5 540.02L840.5 620.5" stroke="#7c7c7c" stroke-width="1"/>
<path d="M855.5 538.71L855.5 620.5" stroke="#7c7c7c" stroke-width="1"/>
<path d="M870.5 537.4L870.5 620.5" stroke="#7c7c7c" stroke-width="1"/>
<path d="M885.5 536.1L885.5 620.5" stroke="#7c7c7c" stroke-width="1"/>
<path d="M900.5 534.79L900.5 620.5" stroke="#7c7c7c" stroke-width="1"/>
<path d="M916.5 533.49L916.5 620.5" stroke="#7c7c7c" stroke-width="1"/>
<path d="M931.5 532.18L931.5 620.5" stroke="#7c7c7c" stroke-width="1"/>
<path d="M946.5 530.88L946.5 620.5" stroke="#7c7c7c" stroke-width="1"/>
<path d="M961.5 529.57L961.5 620.5" stroke="#7c7c7c" stroke-width="1"/>
<path d="M976.5 528.27L976.5 620.5" stroke="#7c7c7c" stroke-width="1"/>
<path d="M991.5 526.96L991.5 620.5" stroke="#7c7c7c" stroke-width="1"/>
<path d="M1004.5 536.48L1004.5 622" stroke="#7c7c7c" stroke-width="1"/>
<path d="M1004.9 539.48L1006.2 537.39L1008.7 536.15" stroke="#9a9a9a" stroke-width="0.5" fill="none"/>
<path d="M777 620.5L1009 620.5" stroke="#ababab" stroke-width="1"/>
<path d="M1008.7 535.8L1010 536.5L1010 545.3" stroke="#6a6a6a" stroke-width="0.6" fill="none"/>
<rect x="1009.3" y="545.3" width="6.9" height="75.9" stroke="#6a6a6a" stroke-width="0.7" fill="none"/>
<path d="M1009.3 563.5L1016.2 563.5" stroke="#7c7c7c" stroke-width="1"/>
<path d="M1009.3 564.5L1016.2 564.5" stroke="#ababab" stroke-width="1"/>
<path d="M1009.3 565.5L1016.2 565.5" stroke="#7c7c7c" stroke-width="1"/>
<path d="M1009.3 589.5L1016.2 589.5" stroke="#7c7c7c" stroke-width="1"/>
<path d="M1009.3 612.5L1016.2 612.5" stroke="#7c7c7c" stroke-width="1"/>
<path d="M1009.5 535.8L1009.5 622" stroke="#7c7c7c" stroke-width="1"/>
<path d="M738 622.6L1018 622.6" stroke="#555" stroke-width="1.5"/>
<rect x="1010" y="621.6" width="23" height="1.9" stroke="#6a6a6a" stroke-width="0.5" fill="none"/>
<path d="M753 622.8L776 620.8" stroke="#9a9a9a" stroke-width="0.5"/>
<text x="112.8" y="62.9" font-size="13" fill="#222" text-anchor="start" stroke="#fff" stroke-width="0.12" textLength="24" lengthAdjust="spacingAndGlyphs">6.326</text>
<path d="M112.6 63.3L137.8 63.3" stroke="#222" stroke-width="1"/>
<path d="M137.8 63.3L137.8 70.6" stroke="#222" stroke-width="0.9"/>
<path d="M135.7 67.7L137.8 70.4L139.9 67.7" stroke="#1a1a1a" stroke-width="1.0" fill="none"/>
<path d="M136.8 69L137.8 70.6L138.8 69Z" stroke="none" style="fill:#1a1a1a"/>
<text x="112.8" y="98.6" font-size="13" fill="#222" text-anchor="start" stroke="#fff" stroke-width="0.12" textLength="24" lengthAdjust="spacingAndGlyphs">5,625</text>
<path d="M112.6 88.2L137.8 88.2" stroke="#222" stroke-width="1"/>
<path d="M137.8 81L137.8 88.2" stroke="#222" stroke-width="0.9"/>
<path d="M135.7 83.9L137.8 81.2L139.9 83.9" stroke="#1a1a1a" stroke-width="1.0" fill="none"/>
<path d="M136.8 82.6L137.8 81L138.8 82.6Z" stroke="none" style="fill:#1a1a1a"/>
<path d="M137.8 81.5L172 81.5" stroke="#8a8a8a" stroke-width="1"/>
<text x="114.3" y="127.3" font-size="13" fill="#222" text-anchor="start" stroke="#fff" stroke-width="0.12" textLength="22.5" lengthAdjust="spacingAndGlyphs">2.100</text>
<path d="M114.1 127.7L137.8 127.7" stroke="#222" stroke-width="1"/>
<path d="M137.8 127.7L137.8 135" stroke="#222" stroke-width="0.9"/>
<path d="M135.7 132.1L137.8 134.8L139.9 132.1" stroke="#1a1a1a" stroke-width="1.0" fill="none"/>
<path d="M136.8 133.4L137.8 135L138.8 133.4Z" stroke="none" style="fill:#1a1a1a"/>
<text x="111.8" y="159.1" font-size="13" fill="#222" text-anchor="start" stroke="#fff" stroke-width="0.12" textLength="25" lengthAdjust="spacingAndGlyphs">0.000</text>
<path d="M111.6 159.5L137.8 159.5" stroke="#222" stroke-width="1"/>
<path d="M137.8 159.5L137.8 166.8" stroke="#222" stroke-width="0.9"/>
<path d="M135.7 163.9L137.8 166.6L139.9 163.9" stroke="#1a1a1a" stroke-width="1.0" fill="none"/>
<path d="M136.8 165.2L137.8 166.8L138.8 165.2Z" stroke="none" style="fill:#1a1a1a"/>
<path d="M137.8 166.5L176 166.5" stroke="#8a8a8a" stroke-width="1"/>
<text x="1111" y="69.6" font-size="13" fill="#222" text-anchor="start" stroke="#fff" stroke-width="0.12" textLength="24" lengthAdjust="spacingAndGlyphs">5.863</text>
<path d="M1107.8 70L1135.4 70" stroke="#222" stroke-width="1"/>
<path d="M1107.8 70L1107.8 77.3" stroke="#222" stroke-width="0.9"/>
<path d="M1105.7 74.4L1107.8 77.1L1109.9 74.4" stroke="#1a1a1a" stroke-width="1.0" fill="none"/>
<path d="M1106.8 75.7L1107.8 77.3L1108.8 75.7Z" stroke="none" style="fill:#1a1a1a"/>
<path d="M1073.8 77.5L1107.8 77.5" stroke="#8a8a8a" stroke-width="1"/>
<text x="1111" y="106.1" font-size="13" fill="#222" text-anchor="start" stroke="#fff" stroke-width="0.12" textLength="24" lengthAdjust="spacingAndGlyphs">3.500</text>
<path d="M1107.8 106.5L1135.4 106.5" stroke="#222" stroke-width="1"/>
<path d="M1107.8 106.5L1107.8 113.8" stroke="#222" stroke-width="0.9"/>
<path d="M1105.7 110.9L1107.8 113.6L1109.9 110.9" stroke="#1a1a1a" stroke-width="1.0" fill="none"/>
<path d="M1106.8 112.2L1107.8 113.8L1108.8 112.2Z" stroke="none" style="fill:#1a1a1a"/>
<text x="1111" y="160.7" font-size="13" fill="#222" text-anchor="start" stroke="#fff" stroke-width="0.12" textLength="42.5" lengthAdjust="spacingAndGlyphs">Ур. земли</text>
<path d="M1107.8 161.1L1153.9 161.1" stroke="#222" stroke-width="1"/>
<path d="M1107.8 161.1L1107.8 168.4" stroke="#222" stroke-width="0.9"/>
<path d="M1105.7 165.5L1107.8 168.2L1109.9 165.5" stroke="#1a1a1a" stroke-width="1.0" fill="none"/>
<path d="M1106.8 166.8L1107.8 168.4L1108.8 166.8Z" stroke="none" style="fill:#1a1a1a"/>
<path d="M1083.3 168.5L1107.8 168.5" stroke="#8a8a8a" stroke-width="1"/>
<text x="113.9" y="281.9" font-size="13" fill="#222" text-anchor="start" stroke="#fff" stroke-width="0.12" textLength="24" lengthAdjust="spacingAndGlyphs">5.863</text>
<path d="M113.7 282.3L138.9 282.3" stroke="#222" stroke-width="1"/>
<path d="M138.9 282.3L138.9 289.6" stroke="#222" stroke-width="0.9"/>
<path d="M136.8 286.7L138.9 289.4L141 286.7" stroke="#1a1a1a" stroke-width="1.0" fill="none"/>
<path d="M137.9 288L138.9 289.6L139.9 288Z" stroke="none" style="fill:#1a1a1a"/>
<path d="M138.9 289.5L172.2 289.5" stroke="#8a8a8a" stroke-width="1"/>
<text x="114.9" y="297.9" font-size="13" fill="#222" text-anchor="start" stroke="#fff" stroke-width="0.12" textLength="23" lengthAdjust="spacingAndGlyphs">4.821</text>
<path d="M114.7 298.3L138.9 298.3" stroke="#222" stroke-width="1"/>
<path d="M138.9 298.3L138.9 305.6" stroke="#222" stroke-width="0.9"/>
<path d="M136.8 302.7L138.9 305.4L141 302.7" stroke="#1a1a1a" stroke-width="1.0" fill="none"/>
<path d="M137.9 304L138.9 305.6L139.9 304Z" stroke="none" style="fill:#1a1a1a"/>
<path d="M138.9 305.5L172.2 305.5" stroke="#8a8a8a" stroke-width="1"/>
<text x="113.9" y="327.1" font-size="13" fill="#222" text-anchor="start" stroke="#fff" stroke-width="0.12" textLength="24" lengthAdjust="spacingAndGlyphs">4,593</text>
<path d="M113.7 316.7L138.9 316.7" stroke="#222" stroke-width="1"/>
<path d="M138.9 308.9L138.9 316.7" stroke="#222" stroke-width="0.9"/>
<path d="M136.8 311.8L138.9 309.1L141 311.8" stroke="#1a1a1a" stroke-width="1.0" fill="none"/>
<path d="M137.9 310.5L138.9 308.9L139.9 310.5Z" stroke="none" style="fill:#1a1a1a"/>
<path d="M138.9 308.5L172.2 308.5" stroke="#8a8a8a" stroke-width="1"/>
<text x="95.4" y="373" font-size="13" fill="#222" text-anchor="start" stroke="#fff" stroke-width="0.12" textLength="42.5" lengthAdjust="spacingAndGlyphs">Ур. земли</text>
<path d="M95.2 373.4L138.9 373.4" stroke="#222" stroke-width="1"/>
<path d="M138.9 373.4L138.9 380.7" stroke="#222" stroke-width="0.9"/>
<path d="M136.8 377.8L138.9 380.5L141 377.8" stroke="#1a1a1a" stroke-width="1.0" fill="none"/>
<path d="M137.9 379.1L138.9 380.7L139.9 379.1Z" stroke="none" style="fill:#1a1a1a"/>
<path d="M138.9 380.5L163.3 380.5" stroke="#8a8a8a" stroke-width="1"/>
<text x="1111" y="275" font-size="13" fill="#222" text-anchor="start" stroke="#fff" stroke-width="0.12" textLength="24" lengthAdjust="spacingAndGlyphs">6.326</text>
<path d="M1107.8 275.4L1135.4 275.4" stroke="#222" stroke-width="1"/>
<path d="M1107.8 275.4L1107.8 283.2" stroke="#222" stroke-width="0.9"/>
<path d="M1105.7 280.3L1107.8 283L1109.9 280.3" stroke="#1a1a1a" stroke-width="1.0" fill="none"/>
<path d="M1106.8 281.6L1107.8 283.2L1108.8 281.6Z" stroke="none" style="fill:#1a1a1a"/>
<text x="1111" y="285.7" font-size="13" fill="#222" text-anchor="start" stroke="#fff" stroke-width="0.12" textLength="24" lengthAdjust="spacingAndGlyphs">5.625</text>
<path d="M1107.8 286.1L1135.4 286.1" stroke="#222" stroke-width="1"/>
<path d="M1107.8 286.1L1107.8 293.4" stroke="#222" stroke-width="0.9"/>
<path d="M1105.7 290.5L1107.8 293.2L1109.9 290.5" stroke="#1a1a1a" stroke-width="1.0" fill="none"/>
<path d="M1106.8 291.8L1107.8 293.4L1108.8 291.8Z" stroke="none" style="fill:#1a1a1a"/>
<path d="M1073.3 293.5L1107.8 293.5" stroke="#8a8a8a" stroke-width="1"/>
<text x="1111" y="306.4" font-size="13" fill="#222" text-anchor="start" stroke="#fff" stroke-width="0.12" textLength="25" lengthAdjust="spacingAndGlyphs">4.268</text>
<path d="M1107.8 306.8L1136.4 306.8" stroke="#222" stroke-width="1"/>
<path d="M1107.8 306.8L1107.8 314.3" stroke="#222" stroke-width="0.9"/>
<path d="M1105.7 311.4L1107.8 314.1L1109.9 311.4" stroke="#1a1a1a" stroke-width="1.0" fill="none"/>
<path d="M1106.8 312.7L1107.8 314.3L1108.8 312.7Z" stroke="none" style="fill:#1a1a1a"/>
<path d="M1073.3 314.5L1107.8 314.5" stroke="#8a8a8a" stroke-width="1"/>
<text x="1111" y="325.3" font-size="13" fill="#222" text-anchor="start" stroke="#fff" stroke-width="0.12" textLength="24" lengthAdjust="spacingAndGlyphs">3.000</text>
<path d="M1107.8 325.7L1135.4 325.7" stroke="#222" stroke-width="1"/>
<path d="M1107.8 325.7L1107.8 332.8" stroke="#222" stroke-width="0.9"/>
<path d="M1105.7 329.9L1107.8 332.6L1109.9 329.9" stroke="#1a1a1a" stroke-width="1.0" fill="none"/>
<path d="M1106.8 331.2L1107.8 332.8L1108.8 331.2Z" stroke="none" style="fill:#1a1a1a"/>
<text x="1111" y="339.1" font-size="13" fill="#222" text-anchor="start" stroke="#fff" stroke-width="0.12" textLength="23" lengthAdjust="spacingAndGlyphs">2.100</text>
<path d="M1107.8 339.5L1134.4 339.5" stroke="#222" stroke-width="1"/>
<path d="M1107.8 339.5L1107.8 346.8" stroke="#222" stroke-width="0.9"/>
<path d="M1105.7 343.9L1107.8 346.6L1109.9 343.9" stroke="#1a1a1a" stroke-width="1.0" fill="none"/>
<path d="M1106.8 345.2L1107.8 346.8L1108.8 345.2Z" stroke="none" style="fill:#1a1a1a"/>
<text x="1111" y="371.3" font-size="13" fill="#222" text-anchor="start" stroke="#fff" stroke-width="0.12" textLength="25" lengthAdjust="spacingAndGlyphs">0.000</text>
<path d="M1107.8 371.7L1136.4 371.7" stroke="#222" stroke-width="1"/>
<path d="M1107.8 371.7L1107.8 378.8" stroke="#222" stroke-width="0.9"/>
<path d="M1105.7 375.9L1107.8 378.6L1109.9 375.9" stroke="#1a1a1a" stroke-width="1.0" fill="none"/>
<path d="M1106.8 377.2L1107.8 378.8L1108.8 377.2Z" stroke="none" style="fill:#1a1a1a"/>
<path d="M1078.9 378.5L1107.8 378.5" stroke="#8a8a8a" stroke-width="1"/>
<text x="157.2" y="517.3" font-size="13" fill="#222" text-anchor="start" stroke="#fff" stroke-width="0.12" textLength="24" lengthAdjust="spacingAndGlyphs">6.326</text>
<path d="M157 517.7L182.2 517.7" stroke="#222" stroke-width="1"/>
<path d="M182.2 517.7L182.2 525" stroke="#222" stroke-width="0.9"/>
<path d="M180.1 522.1L182.2 524.8L184.3 522.1" stroke="#1a1a1a" stroke-width="1.0" fill="none"/>
<path d="M181.2 523.4L182.2 525L183.2 523.4Z" stroke="none" style="fill:#1a1a1a"/>
<path d="M182.2 525.5L232.2 525.5" stroke="#8a8a8a" stroke-width="1"/>
<text x="157.2" y="550.5" font-size="13" fill="#222" text-anchor="start" stroke="#fff" stroke-width="0.12" textLength="24" lengthAdjust="spacingAndGlyphs">5,863</text>
<path d="M157 540.1L182.2 540.1" stroke="#222" stroke-width="1"/>
<path d="M182.2 532.3L182.2 540.1" stroke="#222" stroke-width="0.9"/>
<path d="M180.1 535.2L182.2 532.5L184.3 535.2" stroke="#1a1a1a" stroke-width="1.0" fill="none"/>
<path d="M181.2 533.9L182.2 532.3L183.2 533.9Z" stroke="none" style="fill:#1a1a1a"/>
<path d="M182.2 532.5L280 532.5" stroke="#8a8a8a" stroke-width="1"/>
<text x="158.2" y="562.7" font-size="13" fill="#222" text-anchor="start" stroke="#fff" stroke-width="0.12" textLength="23" lengthAdjust="spacingAndGlyphs">5,019</text>
<path d="M158 552.3L182.2 552.3" stroke="#222" stroke-width="1"/>
<path d="M182.2 545.7L182.2 552.3" stroke="#222" stroke-width="0.9"/>
<path d="M180.1 548.6L182.2 545.9L184.3 548.6" stroke="#1a1a1a" stroke-width="1.0" fill="none"/>
<path d="M181.2 547.3L182.2 545.7L183.2 547.3Z" stroke="none" style="fill:#1a1a1a"/>
<path d="M182.2 545.5L225.6 545.5" stroke="#8a8a8a" stroke-width="1"/>
<text x="156.2" y="612.8" font-size="13" fill="#222" text-anchor="start" stroke="#fff" stroke-width="0.12" textLength="25" lengthAdjust="spacingAndGlyphs">0.000</text>
<path d="M156 613.2L182.2 613.2" stroke="#222" stroke-width="1"/>
<path d="M182.2 613.2L182.2 621" stroke="#222" stroke-width="0.9"/>
<path d="M180.1 618.1L182.2 620.8L184.3 618.1" stroke="#1a1a1a" stroke-width="1.0" fill="none"/>
<path d="M181.2 619.4L182.2 621L183.2 619.4Z" stroke="none" style="fill:#1a1a1a"/>
<path d="M182.2 621.5L208.9 621.5" stroke="#8a8a8a" stroke-width="1"/>
<text x="546.1" y="540.6" font-size="13" fill="#222" text-anchor="start" stroke="#fff" stroke-width="0.12" textLength="23" lengthAdjust="spacingAndGlyphs">4.821</text>
<path d="M542.9 541L569.5 541" stroke="#222" stroke-width="1"/>
<path d="M542.9 541L542.9 548.3" stroke="#222" stroke-width="0.9"/>
<path d="M540.8 545.4L542.9 548.1L545 545.4" stroke="#1a1a1a" stroke-width="1.0" fill="none"/>
<path d="M541.9 546.7L542.9 548.3L543.9 546.7Z" stroke="none" style="fill:#1a1a1a"/>
<path d="M503.3 548.5L542.9 548.5" stroke="#8a8a8a" stroke-width="1"/>
<text x="546.1" y="569.3" font-size="13" fill="#222" text-anchor="start" stroke="#fff" stroke-width="0.12" textLength="24" lengthAdjust="spacingAndGlyphs">4,593</text>
<path d="M542.9 558.9L570.5 558.9" stroke="#222" stroke-width="1"/>
<path d="M542.9 551.7L542.9 558.9" stroke="#222" stroke-width="0.9"/>
<path d="M540.8 554.6L542.9 551.9L545 554.6" stroke="#1a1a1a" stroke-width="1.0" fill="none"/>
<path d="M541.9 553.3L542.9 551.7L543.9 553.3Z" stroke="none" style="fill:#1a1a1a"/>
<path d="M507.1 551.5L542.9 551.5" stroke="#8a8a8a" stroke-width="1"/>
<text x="546.1" y="615.7" font-size="13" fill="#222" text-anchor="start" stroke="#fff" stroke-width="0.12" textLength="42.5" lengthAdjust="spacingAndGlyphs">Ур. земли</text>
<path d="M542.9 616.1L589 616.1" stroke="#222" stroke-width="1"/>
<path d="M542.9 616.1L542.9 623.2" stroke="#222" stroke-width="0.9"/>
<path d="M540.8 620.3L542.9 623L545 620.3" stroke="#1a1a1a" stroke-width="1.0" fill="none"/>
<path d="M541.9 621.6L542.9 623.2L543.9 621.6Z" stroke="none" style="fill:#1a1a1a"/>
<path d="M512.7 623.5L542.9 623.5" stroke="#8a8a8a" stroke-width="1"/>
<text x="682.7" y="540.2" font-size="13" fill="#222" text-anchor="start" stroke="#fff" stroke-width="0.12" textLength="23" lengthAdjust="spacingAndGlyphs">4.821</text>
<path d="M682.5 540.6L706.7 540.6" stroke="#222" stroke-width="1"/>
<path d="M706.7 540.6L706.7 548.3" stroke="#222" stroke-width="0.9"/>
<path d="M704.6 545.4L706.7 548.1L708.8 545.4" stroke="#1a1a1a" stroke-width="1.0" fill="none"/>
<path d="M705.7 546.7L706.7 548.3L707.7 546.7Z" stroke="none" style="fill:#1a1a1a"/>
<path d="M706.7 548.5L742.2 548.5" stroke="#8a8a8a" stroke-width="1"/>
<text x="680.7" y="574.3" font-size="13" fill="#222" text-anchor="start" stroke="#fff" stroke-width="0.12" textLength="25" lengthAdjust="spacingAndGlyphs">4,268</text>
<path d="M680.5 563.9L706.7 563.9" stroke="#222" stroke-width="1"/>
<path d="M706.7 556.1L706.7 563.9" stroke="#222" stroke-width="0.9"/>
<path d="M704.6 559L706.7 556.3L708.8 559" stroke="#1a1a1a" stroke-width="1.0" fill="none"/>
<path d="M705.7 557.7L706.7 556.1L707.7 557.7Z" stroke="none" style="fill:#1a1a1a"/>
<path d="M706.7 556.5L747 556.5" stroke="#8a8a8a" stroke-width="1"/>
<text x="663.2" y="615.7" font-size="13" fill="#222" text-anchor="start" stroke="#fff" stroke-width="0.12" textLength="42.5" lengthAdjust="spacingAndGlyphs">Ур. земли</text>
<path d="M663 616.1L706.7 616.1" stroke="#222" stroke-width="1"/>
<path d="M706.7 616.1L706.7 623.2" stroke="#222" stroke-width="0.9"/>
<path d="M704.6 620.3L706.7 623L708.8 620.3" stroke="#1a1a1a" stroke-width="1.0" fill="none"/>
<path d="M705.7 621.6L706.7 623.2L707.7 621.6Z" stroke="none" style="fill:#1a1a1a"/>
<path d="M706.7 623.5L733.3 623.5" stroke="#8a8a8a" stroke-width="1"/>
<text x="1067.6" y="516.8" font-size="13" fill="#222" text-anchor="start" stroke="#fff" stroke-width="0.12" textLength="24" lengthAdjust="spacingAndGlyphs">6.326</text>
<path d="M1064.4 517.2L1092 517.2" stroke="#222" stroke-width="1"/>
<path d="M1064.4 517.2L1064.4 525.4" stroke="#222" stroke-width="0.9"/>
<path d="M1062.3 522.5L1064.4 525.2L1066.5 522.5" stroke="#1a1a1a" stroke-width="1.0" fill="none"/>
<path d="M1063.4 523.8L1064.4 525.4L1065.4 523.8Z" stroke="none" style="fill:#1a1a1a"/>
<path d="M1013.3 525.5L1064.4 525.5" stroke="#8a8a8a" stroke-width="1"/>
<text x="1067.6" y="527.9" font-size="13" fill="#222" text-anchor="start" stroke="#fff" stroke-width="0.12" textLength="24" lengthAdjust="spacingAndGlyphs">5.625</text>
<path d="M1064.4 528.3L1092 528.3" stroke="#222" stroke-width="1"/>
<path d="M1064.4 528.3L1064.4 535.7" stroke="#222" stroke-width="0.9"/>
<path d="M1062.3 532.8L1064.4 535.5L1066.5 532.8" stroke="#1a1a1a" stroke-width="1.0" fill="none"/>
<path d="M1063.4 534.1L1064.4 535.7L1065.4 534.1Z" stroke="none" style="fill:#1a1a1a"/>
<path d="M1012.2 535.5L1064.4 535.5" stroke="#8a8a8a" stroke-width="1"/>
<text x="1067.6" y="563.2" font-size="13" fill="#222" text-anchor="start" stroke="#fff" stroke-width="0.12" textLength="23" lengthAdjust="spacingAndGlyphs">5,019</text>
<path d="M1064.4 552.8L1091 552.8" stroke="#222" stroke-width="1"/>
<path d="M1064.4 545.4L1064.4 552.8" stroke="#222" stroke-width="0.9"/>
<path d="M1062.3 548.3L1064.4 545.6L1066.5 548.3" stroke="#1a1a1a" stroke-width="1.0" fill="none"/>
<path d="M1063.4 547L1064.4 545.4L1065.4 547Z" stroke="none" style="fill:#1a1a1a"/>
<path d="M1020.4 545.5L1064.4 545.5" stroke="#8a8a8a" stroke-width="1"/>
<text x="1067.6" y="612.8" font-size="13" fill="#222" text-anchor="start" stroke="#fff" stroke-width="0.12" textLength="25" lengthAdjust="spacingAndGlyphs">0.000</text>
<path d="M1064.4 613.2L1093 613.2" stroke="#222" stroke-width="1"/>
<path d="M1064.4 613.2L1064.4 621.2" stroke="#222" stroke-width="0.9"/>
<path d="M1062.3 618.3L1064.4 621L1066.5 618.3" stroke="#1a1a1a" stroke-width="1.0" fill="none"/>
<path d="M1063.4 619.6L1064.4 621.2L1065.4 619.6Z" stroke="none" style="fill:#1a1a1a"/>
<path d="M1037.3 621.5L1064.4 621.5" stroke="#8a8a8a" stroke-width="1"/>
<path d="M178.3 196.5L1067.3 196.5" stroke="#8a8a8a" stroke-width="1"/>
<path d="M178.5 167.5L178.5 206.8" stroke="#8a8a8a" stroke-width="1"/>
<path d="M176.7 198.4L179.9 195.2" stroke="#222" stroke-width="0.9"/>
<circle cx="178.3" cy="221.8" r="15.3" stroke="#8e8e8e" stroke-width="1" fill="none"/>
<text x="178.3" y="226.8" font-size="19.2" fill="#222" text-anchor="middle" stroke="#fff" stroke-width="0.15" textLength="5.5" lengthAdjust="spacingAndGlyphs">1</text>
<path d="M1067.5 168L1067.5 206.8" stroke="#8a8a8a" stroke-width="1"/>
<path d="M1065.7 198.4L1068.9 195.2" stroke="#222" stroke-width="0.9"/>
<circle cx="1067.3" cy="221.8" r="15.3" stroke="#8e8e8e" stroke-width="1" fill="none"/>
<text x="1067.3" y="226.8" font-size="19.2" fill="#222" text-anchor="middle" stroke="#fff" stroke-width="0.15" textLength="12.5" lengthAdjust="spacingAndGlyphs">13</text>
<text x="601.8" y="194.7" font-size="16.7" fill="#222" text-anchor="start" stroke="#fff" stroke-width="0.23" textLength="13.4" lengthAdjust="spacingAndGlyphs">58</text>
<text x="622.6" y="194.7" font-size="16.7" fill="#222" text-anchor="start" stroke="#fff" stroke-width="0.23" textLength="21.6" lengthAdjust="spacingAndGlyphs">700</text>
<path d="M178.4 409L1067.3 409" stroke="#555" stroke-width="0.9"/>
<path d="M178.5 381L178.5 418.6" stroke="#8a8a8a" stroke-width="1"/>
<path d="M176.8 410.6L180 407.4" stroke="#222" stroke-width="0.9"/>
<circle cx="178.4" cy="433.6" r="15.3" stroke="#8e8e8e" stroke-width="1" fill="none"/>
<text x="178.4" y="438.6" font-size="19.2" fill="#222" text-anchor="middle" stroke="#fff" stroke-width="0.15" textLength="12.5" lengthAdjust="spacingAndGlyphs">13</text>
<path d="M1067.5 381L1067.5 418.8" stroke="#8a8a8a" stroke-width="1"/>
<path d="M1065.7 410.6L1068.9 407.4" stroke="#222" stroke-width="0.9"/>
<circle cx="1067.3" cy="433.8" r="15.3" stroke="#8e8e8e" stroke-width="1" fill="none"/>
<text x="1067.3" y="438.8" font-size="19.2" fill="#222" text-anchor="middle" stroke="#fff" stroke-width="0.15" textLength="5.5" lengthAdjust="spacingAndGlyphs">1</text>
<text x="601.8" y="406.9" font-size="16.7" fill="#222" text-anchor="start" stroke="#fff" stroke-width="0.23" textLength="13.4" lengthAdjust="spacingAndGlyphs">58</text>
<text x="622.6" y="406.9" font-size="16.7" fill="#222" text-anchor="start" stroke="#fff" stroke-width="0.23" textLength="21.6" lengthAdjust="spacingAndGlyphs">700</text>
<path d="M238.9 651.5L496.6 651.5" stroke="#8a8a8a" stroke-width="1"/>
<path d="M239.5 622.5L239.5 661.6" stroke="#8a8a8a" stroke-width="1"/>
<path d="M237.6 653.3L240.8 650.1" stroke="#222" stroke-width="0.9"/>
<circle cx="239.2" cy="676.6" r="15.3" stroke="#8e8e8e" stroke-width="1" fill="none"/>
<text x="239.2" y="680.9" font-size="18.2" fill="#222" text-anchor="middle" stroke="#fff" stroke-width="0.15" textLength="8.2" lengthAdjust="spacingAndGlyphs">А</text>
<path d="M496.5 622.5L496.5 661.6" stroke="#8a8a8a" stroke-width="1"/>
<path d="M495 653.3L498.2 650.1" stroke="#222" stroke-width="0.9"/>
<circle cx="496.6" cy="676.6" r="15.3" stroke="#8e8e8e" stroke-width="1" fill="none"/>
<text x="496.6" y="680.9" font-size="18.2" fill="#222" text-anchor="middle" stroke="#fff" stroke-width="0.15" textLength="6.6" lengthAdjust="spacingAndGlyphs">Е</text>
<text x="347.4" y="649" font-size="16.7" fill="#222" text-anchor="start" stroke="#fff" stroke-width="0.23" textLength="11.5" lengthAdjust="spacingAndGlyphs">17</text>
<text x="365.6" y="649" font-size="16.7" fill="#222" text-anchor="start" stroke="#fff" stroke-width="0.23" textLength="22.5" lengthAdjust="spacingAndGlyphs">000</text>
<path d="M748.9 651.5L1006.7 651.5" stroke="#8a8a8a" stroke-width="1"/>
<path d="M748.5 622.5L748.5 661.6" stroke="#8a8a8a" stroke-width="1"/>
<path d="M747.3 653.3L750.5 650.1" stroke="#222" stroke-width="0.9"/>
<circle cx="748.9" cy="676.6" r="15.3" stroke="#8e8e8e" stroke-width="1" fill="none"/>
<text x="748.9" y="680.9" font-size="18.2" fill="#222" text-anchor="middle" stroke="#fff" stroke-width="0.15" textLength="6.6" lengthAdjust="spacingAndGlyphs">Е</text>
<path d="M1006.5 622.5L1006.5 661.6" stroke="#8a8a8a" stroke-width="1"/>
<path d="M1005.1 653.3L1008.3 650.1" stroke="#222" stroke-width="0.9"/>
<circle cx="1006.7" cy="676.6" r="15.3" stroke="#8e8e8e" stroke-width="1" fill="none"/>
<text x="1006.7" y="680.9" font-size="18.2" fill="#222" text-anchor="middle" stroke="#fff" stroke-width="0.15" textLength="8.2" lengthAdjust="spacingAndGlyphs">А</text>
<text x="857.9" y="649" font-size="16.7" fill="#222" text-anchor="start" stroke="#fff" stroke-width="0.23" textLength="11.4" lengthAdjust="spacingAndGlyphs">17</text>
<text x="876" y="649" font-size="16.7" fill="#222" text-anchor="start" stroke="#fff" stroke-width="0.23" textLength="22.2" lengthAdjust="spacingAndGlyphs">000</text>
<text x="580.4" y="35.1" font-size="20.5" fill="#222" text-anchor="start" stroke="#fff" stroke-width="0.29" textLength="83.4" lengthAdjust="spacingAndGlyphs">Фасад 1–13</text>
<text x="580.4" y="247.3" font-size="20.5" fill="#222" text-anchor="start" stroke="#fff" stroke-width="0.29" textLength="84.3" lengthAdjust="spacingAndGlyphs">Фасад 13–1</text>
<text x="324.9" y="489.5" font-size="20.5" fill="#222" text-anchor="start" stroke="#fff" stroke-width="0.29" textLength="81.7" lengthAdjust="spacingAndGlyphs">Фасад А–Е</text>
<text x="835.8" y="489.5" font-size="20.5" fill="#222" text-anchor="start" stroke="#fff" stroke-width="0.29" textLength="80.8" lengthAdjust="spacingAndGlyphs">Фасад Е–А</text>
</g>
<g filter="url(#idf)">
<defs><linearGradient id="lg" x1="0" y1="0" x2="0" y2="1"><stop offset="0" stop-color="#1f96e6"/><stop offset="0.45" stop-color="#1e55c0"/><stop offset="1" stop-color="#2a1a7e"/></linearGradient></defs>
<path d="M1096.6 849.8 L1110.2 878.9 L1084 878.9 Z" style="fill:#2b1f80" stroke="none"/>
<path d="M1096.3 850.5 L1090.5 864 L1092.8 864 L1097.2 852 Z" style="fill:#2f9be0" stroke="none"/>
<path d="M1091.83 862.2 L1098.6 862.2" stroke="#2f9be0" stroke-width="2.2" fill="none"/>
<path d="M1090.27 865.8 L1099.57 865.8" stroke="#2f9be0" stroke-width="2.2" fill="none"/>
<path d="M1088.71 869.4 L1100.54 869.4" stroke="#2f9be0" stroke-width="2.2" fill="none"/>
<path d="M1087.2 872.9 L1101.49 872.9" stroke="#2f9be0" stroke-width="2.2" fill="none"/>
<path d="M1085.73 876.3 L1102.41 876.3" stroke="#2f9be0" stroke-width="2.2" fill="none"/>
<text x="1120" y="868.4" font-family="Liberation Serif" font-weight="bold" font-size="20.5" textLength="87" lengthAdjust="spacingAndGlyphs" style="fill:url(#lg)">АЛЬЯНС</text>
<text x="1120" y="877.5" font-size="5.6" font-weight="bold" textLength="88" lengthAdjust="spacingAndGlyphs" fill="#4a48a4">строительная компания</text>
</g>
</svg>
</body></html>
